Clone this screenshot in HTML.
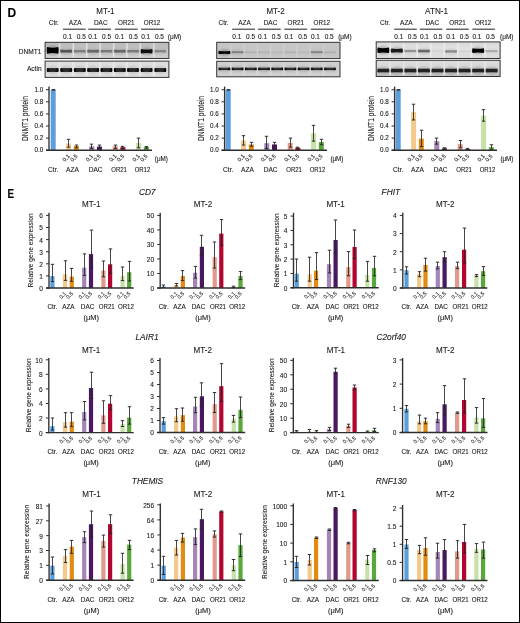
<!DOCTYPE html>
<html><head><meta charset="utf-8"><title>Figure</title>
<style>
html,body{margin:0;padding:0;background:#fff;}
body{width:520px;height:623px;overflow:hidden;}
svg{display:block;will-change:transform;}
text{stroke:#1a1a1a;stroke-width:0.1px;}
</style></head><body>
<svg width="520" height="623" viewBox="0 0 520 623" font-family='"Liberation Sans", sans-serif' fill="#1a1a1a">
<defs><filter id="bl" x="-20%" y="-60%" width="140%" height="220%"><feGaussianBlur stdDeviation="0.5"/></filter><filter id="bl2" x="-30%" y="-80%" width="160%" height="260%"><feGaussianBlur stdDeviation="1.0"/></filter><linearGradient id="g1" x1="0" y1="0" x2="0" y2="1"><stop offset="0" stop-color="#b9b9b9"/><stop offset="0.5" stop-color="#c6c6c6"/><stop offset="1" stop-color="#d0d0d0"/></linearGradient><linearGradient id="g3" x1="0" y1="0" x2="0" y2="1"><stop offset="0" stop-color="#d8d8d8"/><stop offset="0.4" stop-color="#e2e2e2"/><stop offset="1" stop-color="#dadada"/></linearGradient><linearGradient id="g3a" x1="0" y1="0" x2="0" y2="1"><stop offset="0" stop-color="#dedede"/><stop offset="0.5" stop-color="#d6d6d6"/><stop offset="1" stop-color="#bdbdbd"/></linearGradient></defs>
<rect width="520" height="623" fill="#fff"/>
<text x="7.6" y="16.6" font-size="12" font-weight="bold" fill="#000">D</text>
<text x="7.6" y="197.8" font-size="12" font-weight="bold" fill="#000" textLength="6.6" lengthAdjust="spacingAndGlyphs">E</text>
<text x="105.4" y="13.9" font-size="9" text-anchor="middle" textLength="18.2" lengthAdjust="spacingAndGlyphs">MT-1</text>
<text x="53.8" y="24.8" font-size="6.5" text-anchor="middle">Ctr.</text>
<line x1="62.9" y1="29.2" x2="85.7" y2="29.2" stroke="#333" stroke-width="1.1"/>
<text x="75.2" y="24.8" font-size="6.5" text-anchor="middle">AZA</text>
<text x="63" y="38.9" font-size="6.5">0.1</text>
<text x="85.8" y="38.9" font-size="6.5" text-anchor="end">0.5</text>
<line x1="88.2" y1="29.2" x2="111" y2="29.2" stroke="#333" stroke-width="1.1"/>
<text x="100.8" y="24.8" font-size="6.5" text-anchor="middle">DAC</text>
<text x="88.3" y="38.9" font-size="6.5">0.1</text>
<text x="111.1" y="38.9" font-size="6.5" text-anchor="end">0.5</text>
<line x1="114.9" y1="29.2" x2="137.7" y2="29.2" stroke="#333" stroke-width="1.1"/>
<text x="126.3" y="24.8" font-size="6.5" text-anchor="middle" textLength="16.4" lengthAdjust="spacingAndGlyphs">OR21</text>
<text x="115" y="38.9" font-size="6.5">0.1</text>
<text x="137.8" y="38.9" font-size="6.5" text-anchor="end">0.5</text>
<line x1="141.1" y1="29.2" x2="163.9" y2="29.2" stroke="#333" stroke-width="1.1"/>
<text x="152" y="24.8" font-size="6.5" text-anchor="middle" textLength="16.4" lengthAdjust="spacingAndGlyphs">OR12</text>
<text x="141.2" y="38.9" font-size="6.5">0.1</text>
<text x="164" y="38.9" font-size="6.5" text-anchor="end">0.5</text>
<text x="167.8" y="38.9" font-size="6.5">(μM)</text>
<text x="275.5" y="13.9" font-size="9" text-anchor="middle" textLength="18.2" lengthAdjust="spacingAndGlyphs">MT-2</text>
<text x="223.5" y="24.8" font-size="6.5" text-anchor="middle">Ctr.</text>
<line x1="232.2" y1="29.2" x2="255" y2="29.2" stroke="#333" stroke-width="1.1"/>
<text x="244.5" y="24.8" font-size="6.5" text-anchor="middle">AZA</text>
<text x="232.3" y="38.9" font-size="6.5">0.1</text>
<text x="255.1" y="38.9" font-size="6.5" text-anchor="end">0.5</text>
<line x1="257.9" y1="29.2" x2="280.7" y2="29.2" stroke="#333" stroke-width="1.1"/>
<text x="270.5" y="24.8" font-size="6.5" text-anchor="middle">DAC</text>
<text x="258" y="38.9" font-size="6.5">0.1</text>
<text x="280.8" y="38.9" font-size="6.5" text-anchor="end">0.5</text>
<line x1="284.3" y1="29.2" x2="307.1" y2="29.2" stroke="#333" stroke-width="1.1"/>
<text x="295.7" y="24.8" font-size="6.5" text-anchor="middle" textLength="16.4" lengthAdjust="spacingAndGlyphs">OR21</text>
<text x="284.4" y="38.9" font-size="6.5">0.1</text>
<text x="307.2" y="38.9" font-size="6.5" text-anchor="end">0.5</text>
<line x1="310.8" y1="29.2" x2="333.6" y2="29.2" stroke="#333" stroke-width="1.1"/>
<text x="321.7" y="24.8" font-size="6.5" text-anchor="middle" textLength="16.4" lengthAdjust="spacingAndGlyphs">OR12</text>
<text x="310.9" y="38.9" font-size="6.5">0.1</text>
<text x="333.7" y="38.9" font-size="6.5" text-anchor="end">0.5</text>
<text x="338.2" y="38.9" font-size="6.5">(μM)</text>
<text x="436.6" y="13.9" font-size="9" text-anchor="middle" textLength="23.1" lengthAdjust="spacingAndGlyphs">ATN-1</text>
<text x="385.1" y="24.8" font-size="6.5" text-anchor="middle">Ctr.</text>
<line x1="394.2" y1="29.2" x2="416.8" y2="29.2" stroke="#333" stroke-width="1.1"/>
<text x="406.4" y="24.8" font-size="6.5" text-anchor="middle">AZA</text>
<text x="394.3" y="38.9" font-size="6.5">0.1</text>
<text x="416.9" y="38.9" font-size="6.5" text-anchor="end">0.5</text>
<line x1="419.8" y1="29.2" x2="442.4" y2="29.2" stroke="#333" stroke-width="1.1"/>
<text x="432.3" y="24.8" font-size="6.5" text-anchor="middle">DAC</text>
<text x="419.9" y="38.9" font-size="6.5">0.1</text>
<text x="442.5" y="38.9" font-size="6.5" text-anchor="end">0.5</text>
<line x1="446.2" y1="29.2" x2="468.8" y2="29.2" stroke="#333" stroke-width="1.1"/>
<text x="457.5" y="24.8" font-size="6.5" text-anchor="middle" textLength="16.4" lengthAdjust="spacingAndGlyphs">OR21</text>
<text x="446.3" y="38.9" font-size="6.5">0.1</text>
<text x="468.9" y="38.9" font-size="6.5" text-anchor="end">0.5</text>
<line x1="472.3" y1="29.2" x2="494.9" y2="29.2" stroke="#333" stroke-width="1.1"/>
<text x="483.1" y="24.8" font-size="6.5" text-anchor="middle" textLength="16.4" lengthAdjust="spacingAndGlyphs">OR12</text>
<text x="472.4" y="38.9" font-size="6.5">0.1</text>
<text x="495" y="38.9" font-size="6.5" text-anchor="end">0.5</text>
<text x="500" y="38.9" font-size="6.5">(μM)</text>
<text x="41.4" y="54.2" font-size="6.6" text-anchor="end">DNMT1</text>
<text x="41.6" y="70.9" font-size="6.6" text-anchor="end">Actin</text>
<rect x="45.1" y="42.3" width="123.8" height="16.2" fill="url(#g1)" stroke="#333" stroke-width="1"/>
<rect x="58.7" y="43.3" width="1.6" height="14.2" fill="#e9e9e9" opacity="0.8"/>
<rect x="72.5" y="43.3" width="1.6" height="14.2" fill="#e9e9e9" opacity="0.8"/>
<rect x="86" y="43.3" width="1.6" height="14.2" fill="#e9e9e9" opacity="0.8"/>
<rect x="99.4" y="43.3" width="1.6" height="14.2" fill="#e9e9e9" opacity="0.8"/>
<rect x="112.9" y="43.3" width="1.6" height="14.2" fill="#e9e9e9" opacity="0.8"/>
<rect x="126.2" y="43.3" width="1.6" height="14.2" fill="#e9e9e9" opacity="0.8"/>
<rect x="139.5" y="43.3" width="1.6" height="14.2" fill="#e9e9e9" opacity="0.8"/>
<rect x="153.1" y="43.3" width="1.6" height="14.2" fill="#e9e9e9" opacity="0.8"/>
<ellipse cx="52.7" cy="50.3" rx="6.2" ry="4.5" fill="#000" opacity="0.22" filter="url(#bl2)"/>
<path d="M47.1 46.92 Q52.7 48.42 58.3 46.92 Q59.2 50.3 58.3 53.67 Q52.7 52.17 47.1 53.67 Q46.2 50.3 47.1 46.92Z" fill="#000" opacity="1" filter="url(#bl)"/>
<ellipse cx="66.2" cy="51.2" rx="6.2" ry="3.2" fill="#000" opacity="0.11" filter="url(#bl2)"/>
<path d="M60.6 49.58 Q66.2 50.3 71.8 49.58 Q72.7 51.2 71.8 52.82 Q66.2 52.1 60.6 52.82 Q59.7 51.2 60.6 49.58Z" fill="#000" opacity="0.52" filter="url(#bl)"/>
<ellipse cx="79.8" cy="51.2" rx="6.2" ry="3.1" fill="#000" opacity="0.07" filter="url(#bl2)"/>
<path d="M74.2 49.72 Q79.8 50.38 85.4 49.72 Q86.3 51.2 85.4 52.69 Q79.8 52.03 74.2 52.69 Q73.3 51.2 74.2 49.72Z" fill="#000" opacity="0.31" filter="url(#bl)"/>
<ellipse cx="93.1" cy="51.2" rx="6.2" ry="3.2" fill="#000" opacity="0.09" filter="url(#bl2)"/>
<path d="M87.5 49.58 Q93.1 50.3 98.7 49.58 Q99.6 51.2 98.7 52.82 Q93.1 52.1 87.5 52.82 Q86.6 51.2 87.5 49.58Z" fill="#000" opacity="0.42" filter="url(#bl)"/>
<ellipse cx="106.4" cy="51.2" rx="6.2" ry="3.1" fill="#000" opacity="0.07" filter="url(#bl2)"/>
<path d="M100.8 49.72 Q106.4 50.38 112 49.72 Q112.9 51.2 112 52.69 Q106.4 52.03 100.8 52.69 Q99.9 51.2 100.8 49.72Z" fill="#000" opacity="0.34" filter="url(#bl)"/>
<ellipse cx="119.8" cy="51.2" rx="6.2" ry="3.2" fill="#000" opacity="0.09" filter="url(#bl2)"/>
<path d="M114.2 49.58 Q119.8 50.3 125.4 49.58 Q126.3 51.2 125.4 52.82 Q119.8 52.1 114.2 52.82 Q113.3 51.2 114.2 49.58Z" fill="#000" opacity="0.42" filter="url(#bl)"/>
<ellipse cx="133" cy="51.2" rx="6.2" ry="3.1" fill="#000" opacity="0.07" filter="url(#bl2)"/>
<path d="M127.4 49.72 Q133 50.38 138.6 49.72 Q139.5 51.2 138.6 52.69 Q133 52.03 127.4 52.69 Q126.5 51.2 127.4 49.72Z" fill="#000" opacity="0.34" filter="url(#bl)"/>
<ellipse cx="146.6" cy="51.2" rx="6.2" ry="3.7" fill="#000" opacity="0.2" filter="url(#bl2)"/>
<path d="M141 48.91 Q146.6 49.93 152.2 48.91 Q153.1 51.2 152.2 53.5 Q146.6 52.48 141 53.5 Q140.1 51.2 141 48.91Z" fill="#000" opacity="0.9" filter="url(#bl)"/>
<ellipse cx="160.3" cy="51.2" rx="6.2" ry="3.1" fill="#000" opacity="0.06" filter="url(#bl2)"/>
<path d="M154.7 49.72 Q160.3 50.38 165.9 49.72 Q166.8 51.2 165.9 52.69 Q160.3 52.03 154.7 52.69 Q153.8 51.2 154.7 49.72Z" fill="#000" opacity="0.28" filter="url(#bl)"/>
<rect x="45.1" y="61.1" width="123.8" height="16.3" fill="#dddddd" stroke="#333" stroke-width="1"/>
<rect x="58.7" y="62.1" width="1.6" height="14.3" fill="#eeeeee" opacity="0.8"/>
<rect x="72.5" y="62.1" width="1.6" height="14.3" fill="#eeeeee" opacity="0.8"/>
<rect x="86" y="62.1" width="1.6" height="14.3" fill="#eeeeee" opacity="0.8"/>
<rect x="99.4" y="62.1" width="1.6" height="14.3" fill="#eeeeee" opacity="0.8"/>
<rect x="112.9" y="62.1" width="1.6" height="14.3" fill="#eeeeee" opacity="0.8"/>
<rect x="126.2" y="62.1" width="1.6" height="14.3" fill="#eeeeee" opacity="0.8"/>
<rect x="139.5" y="62.1" width="1.6" height="14.3" fill="#eeeeee" opacity="0.8"/>
<rect x="153.1" y="62.1" width="1.6" height="14.3" fill="#eeeeee" opacity="0.8"/>
<ellipse cx="52.7" cy="70" rx="6.2" ry="3.65" fill="#000" opacity="0.11" filter="url(#bl2)"/>
<path d="M47.1 67.94 Q52.7 68.76 58.3 67.94 Q59.2 70 58.3 72.06 Q52.7 71.24 47.1 72.06 Q46.2 70 47.1 67.94Z" fill="#000" opacity="0.95" filter="url(#bl)"/>
<rect x="48.9" y="69.65" width="7.6" height="0.7" fill="#fff" opacity="0.35" filter="url(#bl)"/>
<ellipse cx="66.2" cy="70" rx="6.2" ry="3.65" fill="#000" opacity="0.11" filter="url(#bl2)"/>
<path d="M60.6 67.94 Q66.2 68.76 71.8 67.94 Q72.7 70 71.8 72.06 Q66.2 71.24 60.6 72.06 Q59.7 70 60.6 67.94Z" fill="#000" opacity="0.95" filter="url(#bl)"/>
<rect x="62.4" y="69.65" width="7.6" height="0.7" fill="#fff" opacity="0.35" filter="url(#bl)"/>
<ellipse cx="79.8" cy="70" rx="6.2" ry="3.65" fill="#000" opacity="0.11" filter="url(#bl2)"/>
<path d="M74.2 67.94 Q79.8 68.76 85.4 67.94 Q86.3 70 85.4 72.06 Q79.8 71.24 74.2 72.06 Q73.3 70 74.2 67.94Z" fill="#000" opacity="0.95" filter="url(#bl)"/>
<rect x="76" y="69.65" width="7.6" height="0.7" fill="#fff" opacity="0.35" filter="url(#bl)"/>
<ellipse cx="93.1" cy="70" rx="6.2" ry="3.65" fill="#000" opacity="0.11" filter="url(#bl2)"/>
<path d="M87.5 67.94 Q93.1 68.76 98.7 67.94 Q99.6 70 98.7 72.06 Q93.1 71.24 87.5 72.06 Q86.6 70 87.5 67.94Z" fill="#000" opacity="0.95" filter="url(#bl)"/>
<rect x="89.3" y="69.65" width="7.6" height="0.7" fill="#fff" opacity="0.35" filter="url(#bl)"/>
<ellipse cx="106.4" cy="70" rx="6.2" ry="3.65" fill="#000" opacity="0.11" filter="url(#bl2)"/>
<path d="M100.8 67.94 Q106.4 68.76 112 67.94 Q112.9 70 112 72.06 Q106.4 71.24 100.8 72.06 Q99.9 70 100.8 67.94Z" fill="#000" opacity="0.95" filter="url(#bl)"/>
<rect x="102.6" y="69.65" width="7.6" height="0.7" fill="#fff" opacity="0.35" filter="url(#bl)"/>
<ellipse cx="119.8" cy="70" rx="6.2" ry="3.65" fill="#000" opacity="0.11" filter="url(#bl2)"/>
<path d="M114.2 67.94 Q119.8 68.76 125.4 67.94 Q126.3 70 125.4 72.06 Q119.8 71.24 114.2 72.06 Q113.3 70 114.2 67.94Z" fill="#000" opacity="0.95" filter="url(#bl)"/>
<rect x="116" y="69.65" width="7.6" height="0.7" fill="#fff" opacity="0.35" filter="url(#bl)"/>
<ellipse cx="133" cy="70" rx="6.2" ry="3.65" fill="#000" opacity="0.11" filter="url(#bl2)"/>
<path d="M127.4 67.94 Q133 68.76 138.6 67.94 Q139.5 70 138.6 72.06 Q133 71.24 127.4 72.06 Q126.5 70 127.4 67.94Z" fill="#000" opacity="0.95" filter="url(#bl)"/>
<rect x="129.2" y="69.65" width="7.6" height="0.7" fill="#fff" opacity="0.35" filter="url(#bl)"/>
<ellipse cx="146.6" cy="70" rx="6.2" ry="3.65" fill="#000" opacity="0.11" filter="url(#bl2)"/>
<path d="M141 67.94 Q146.6 68.76 152.2 67.94 Q153.1 70 152.2 72.06 Q146.6 71.24 141 72.06 Q140.1 70 141 67.94Z" fill="#000" opacity="0.95" filter="url(#bl)"/>
<rect x="142.8" y="69.65" width="7.6" height="0.7" fill="#fff" opacity="0.35" filter="url(#bl)"/>
<ellipse cx="160.3" cy="70" rx="6.2" ry="3.65" fill="#000" opacity="0.11" filter="url(#bl2)"/>
<path d="M154.7 67.94 Q160.3 68.76 165.9 67.94 Q166.8 70 165.9 72.06 Q160.3 71.24 154.7 72.06 Q153.8 70 154.7 67.94Z" fill="#000" opacity="0.95" filter="url(#bl)"/>
<rect x="156.5" y="69.65" width="7.6" height="0.7" fill="#fff" opacity="0.35" filter="url(#bl)"/>
<rect x="216.7" y="42.3" width="123.3" height="16.3" fill="#c6c6c6" stroke="#333" stroke-width="1"/>
<rect x="230.2" y="43.3" width="1.6" height="14.3" fill="#d0d0d0" opacity="0.8"/>
<rect x="243.4" y="43.3" width="1.6" height="14.3" fill="#d0d0d0" opacity="0.8"/>
<rect x="256.6" y="43.3" width="1.6" height="14.3" fill="#d0d0d0" opacity="0.8"/>
<rect x="269.8" y="43.3" width="1.6" height="14.3" fill="#d0d0d0" opacity="0.8"/>
<rect x="283" y="43.3" width="1.6" height="14.3" fill="#d0d0d0" opacity="0.8"/>
<rect x="296.2" y="43.3" width="1.6" height="14.3" fill="#d0d0d0" opacity="0.8"/>
<rect x="309.4" y="43.3" width="1.6" height="14.3" fill="#d0d0d0" opacity="0.8"/>
<rect x="322.6" y="43.3" width="1.6" height="14.3" fill="#d0d0d0" opacity="0.8"/>
<ellipse cx="224.4" cy="52.5" rx="6.2" ry="3.2" fill="#000" opacity="0.22" filter="url(#bl2)"/>
<path d="M218.8 50.88 Q224.4 51.6 230 50.88 Q230.9 52.5 230 54.12 Q224.4 53.4 218.8 54.12 Q217.9 52.5 218.8 50.88Z" fill="#000" opacity="1" filter="url(#bl)"/>
<ellipse cx="237.6" cy="52.2" rx="6.2" ry="2.85" fill="#000" opacity="0.07" filter="url(#bl2)"/>
<path d="M232 51.05 Q237.6 51.56 243.2 51.05 Q244.1 52.2 243.2 53.35 Q237.6 52.84 232 53.35 Q231.1 52.2 232 51.05Z" fill="#000" opacity="0.3" filter="url(#bl)"/>
<ellipse cx="250.8" cy="52.2" rx="6.2" ry="2.7" fill="#000" opacity="0.02" filter="url(#bl2)"/>
<path d="M245.2 51.26 Q250.8 51.68 256.4 51.26 Q257.3 52.2 256.4 53.15 Q250.8 52.73 245.2 53.15 Q244.3 52.2 245.2 51.26Z" fill="#000" opacity="0.07" filter="url(#bl)"/>
<ellipse cx="264" cy="52.2" rx="6.2" ry="2.7" fill="#000" opacity="0.02" filter="url(#bl2)"/>
<path d="M258.4 51.26 Q264 51.68 269.6 51.26 Q270.5 52.2 269.6 53.15 Q264 52.73 258.4 53.15 Q257.5 52.2 258.4 51.26Z" fill="#000" opacity="0.07" filter="url(#bl)"/>
<ellipse cx="277.2" cy="52.2" rx="6.2" ry="2.7" fill="#000" opacity="0.01" filter="url(#bl2)"/>
<path d="M271.6 51.26 Q277.2 51.68 282.8 51.26 Q283.7 52.2 282.8 53.15 Q277.2 52.73 271.6 53.15 Q270.7 52.2 271.6 51.26Z" fill="#000" opacity="0.05" filter="url(#bl)"/>
<ellipse cx="290.4" cy="52.2" rx="6.2" ry="2.7" fill="#000" opacity="0.02" filter="url(#bl2)"/>
<path d="M284.8 51.26 Q290.4 51.68 296 51.26 Q296.9 52.2 296 53.15 Q290.4 52.73 284.8 53.15 Q283.9 52.2 284.8 51.26Z" fill="#000" opacity="0.07" filter="url(#bl)"/>
<ellipse cx="303.6" cy="52.2" rx="6.2" ry="2.7" fill="#000" opacity="0.01" filter="url(#bl2)"/>
<path d="M298 51.26 Q303.6 51.68 309.2 51.26 Q310.1 52.2 309.2 53.15 Q303.6 52.73 298 53.15 Q297.1 52.2 298 51.26Z" fill="#000" opacity="0.05" filter="url(#bl)"/>
<ellipse cx="316.8" cy="52.2" rx="6.2" ry="2.85" fill="#000" opacity="0.06" filter="url(#bl2)"/>
<path d="M311.2 51.05 Q316.8 51.56 322.4 51.05 Q323.3 52.2 322.4 53.35 Q316.8 52.84 311.2 53.35 Q310.3 52.2 311.2 51.05Z" fill="#000" opacity="0.28" filter="url(#bl)"/>
<ellipse cx="330" cy="52.2" rx="6.2" ry="2.7" fill="#000" opacity="0.02" filter="url(#bl2)"/>
<path d="M324.4 51.26 Q330 51.68 335.6 51.26 Q336.5 52.2 335.6 53.15 Q330 52.73 324.4 53.15 Q323.5 52.2 324.4 51.26Z" fill="#000" opacity="0.1" filter="url(#bl)"/>
<rect x="216.7" y="61.3" width="123.3" height="15.5" fill="#cfcfcf" stroke="#333" stroke-width="1"/>
<rect x="230.2" y="62.3" width="1.6" height="13.5" fill="#dadada" opacity="0.8"/>
<rect x="243.4" y="62.3" width="1.6" height="13.5" fill="#dadada" opacity="0.8"/>
<rect x="256.6" y="62.3" width="1.6" height="13.5" fill="#dadada" opacity="0.8"/>
<rect x="269.8" y="62.3" width="1.6" height="13.5" fill="#dadada" opacity="0.8"/>
<rect x="283" y="62.3" width="1.6" height="13.5" fill="#dadada" opacity="0.8"/>
<rect x="296.2" y="62.3" width="1.6" height="13.5" fill="#dadada" opacity="0.8"/>
<rect x="309.4" y="62.3" width="1.6" height="13.5" fill="#dadada" opacity="0.8"/>
<rect x="322.6" y="62.3" width="1.6" height="13.5" fill="#dadada" opacity="0.8"/>
<ellipse cx="224.4" cy="68.9" rx="6.2" ry="3.15" fill="#000" opacity="0.11" filter="url(#bl2)"/>
<path d="M218.8 67.46 Q224.4 68.04 230 67.46 Q230.9 68.9 230 70.34 Q224.4 69.76 218.8 70.34 Q217.9 68.9 218.8 67.46Z" fill="#000" opacity="0.9" filter="url(#bl)"/>
<rect x="220.6" y="68.55" width="7.6" height="0.7" fill="#fff" opacity="0.3" filter="url(#bl)"/>
<ellipse cx="237.6" cy="68.9" rx="6.2" ry="3.15" fill="#000" opacity="0.11" filter="url(#bl2)"/>
<path d="M232 67.46 Q237.6 68.04 243.2 67.46 Q244.1 68.9 243.2 70.34 Q237.6 69.76 232 70.34 Q231.1 68.9 232 67.46Z" fill="#000" opacity="0.9" filter="url(#bl)"/>
<rect x="233.8" y="68.55" width="7.6" height="0.7" fill="#fff" opacity="0.3" filter="url(#bl)"/>
<ellipse cx="250.8" cy="68.9" rx="6.2" ry="3.15" fill="#000" opacity="0.11" filter="url(#bl2)"/>
<path d="M245.2 67.46 Q250.8 68.04 256.4 67.46 Q257.3 68.9 256.4 70.34 Q250.8 69.76 245.2 70.34 Q244.3 68.9 245.2 67.46Z" fill="#000" opacity="0.9" filter="url(#bl)"/>
<rect x="247" y="68.55" width="7.6" height="0.7" fill="#fff" opacity="0.3" filter="url(#bl)"/>
<ellipse cx="264" cy="68.9" rx="6.2" ry="3.15" fill="#000" opacity="0.11" filter="url(#bl2)"/>
<path d="M258.4 67.46 Q264 68.04 269.6 67.46 Q270.5 68.9 269.6 70.34 Q264 69.76 258.4 70.34 Q257.5 68.9 258.4 67.46Z" fill="#000" opacity="0.9" filter="url(#bl)"/>
<rect x="260.2" y="68.55" width="7.6" height="0.7" fill="#fff" opacity="0.3" filter="url(#bl)"/>
<ellipse cx="277.2" cy="68.9" rx="6.2" ry="3.15" fill="#000" opacity="0.11" filter="url(#bl2)"/>
<path d="M271.6 67.46 Q277.2 68.04 282.8 67.46 Q283.7 68.9 282.8 70.34 Q277.2 69.76 271.6 70.34 Q270.7 68.9 271.6 67.46Z" fill="#000" opacity="0.9" filter="url(#bl)"/>
<rect x="273.4" y="68.55" width="7.6" height="0.7" fill="#fff" opacity="0.3" filter="url(#bl)"/>
<ellipse cx="290.4" cy="68.9" rx="6.2" ry="3.15" fill="#000" opacity="0.11" filter="url(#bl2)"/>
<path d="M284.8 67.46 Q290.4 68.04 296 67.46 Q296.9 68.9 296 70.34 Q290.4 69.76 284.8 70.34 Q283.9 68.9 284.8 67.46Z" fill="#000" opacity="0.9" filter="url(#bl)"/>
<rect x="286.6" y="68.55" width="7.6" height="0.7" fill="#fff" opacity="0.3" filter="url(#bl)"/>
<ellipse cx="303.6" cy="68.9" rx="6.2" ry="3.15" fill="#000" opacity="0.11" filter="url(#bl2)"/>
<path d="M298 67.46 Q303.6 68.04 309.2 67.46 Q310.1 68.9 309.2 70.34 Q303.6 69.76 298 70.34 Q297.1 68.9 298 67.46Z" fill="#000" opacity="0.9" filter="url(#bl)"/>
<rect x="299.8" y="68.55" width="7.6" height="0.7" fill="#fff" opacity="0.3" filter="url(#bl)"/>
<ellipse cx="316.8" cy="68.9" rx="6.2" ry="3.15" fill="#000" opacity="0.11" filter="url(#bl2)"/>
<path d="M311.2 67.46 Q316.8 68.04 322.4 67.46 Q323.3 68.9 322.4 70.34 Q316.8 69.76 311.2 70.34 Q310.3 68.9 311.2 67.46Z" fill="#000" opacity="0.9" filter="url(#bl)"/>
<rect x="313" y="68.55" width="7.6" height="0.7" fill="#fff" opacity="0.3" filter="url(#bl)"/>
<ellipse cx="330" cy="68.9" rx="6.2" ry="3.15" fill="#000" opacity="0.11" filter="url(#bl2)"/>
<path d="M324.4 67.46 Q330 68.04 335.6 67.46 Q336.5 68.9 335.6 70.34 Q330 69.76 324.4 70.34 Q323.5 68.9 324.4 67.46Z" fill="#000" opacity="0.9" filter="url(#bl)"/>
<rect x="326.2" y="68.55" width="7.6" height="0.7" fill="#fff" opacity="0.3" filter="url(#bl)"/>
<rect x="376.2" y="41.9" width="123.9" height="16.6" fill="url(#g3)" stroke="#333" stroke-width="1"/>
<rect x="389.3" y="42.9" width="1.6" height="14.6" fill="#ededed" opacity="0.8"/>
<rect x="402.85" y="42.9" width="1.6" height="14.6" fill="#ededed" opacity="0.8"/>
<rect x="416.4" y="42.9" width="1.6" height="14.6" fill="#ededed" opacity="0.8"/>
<rect x="429.95" y="42.9" width="1.6" height="14.6" fill="#ededed" opacity="0.8"/>
<rect x="443.5" y="42.9" width="1.6" height="14.6" fill="#ededed" opacity="0.8"/>
<rect x="457.05" y="42.9" width="1.6" height="14.6" fill="#ededed" opacity="0.8"/>
<rect x="470.6" y="42.9" width="1.6" height="14.6" fill="#ededed" opacity="0.8"/>
<rect x="484.15" y="42.9" width="1.6" height="14.6" fill="#ededed" opacity="0.8"/>
<ellipse cx="383.3" cy="50.3" rx="6.2" ry="4" fill="#000" opacity="0.22" filter="url(#bl2)"/>
<path d="M377.7 47.6 Q383.3 48.8 388.9 47.6 Q389.8 50.3 388.9 53 Q383.3 51.8 377.7 53 Q376.8 50.3 377.7 47.6Z" fill="#000" opacity="1" filter="url(#bl)"/>
<ellipse cx="396.85" cy="50.6" rx="6.2" ry="3.6" fill="#000" opacity="0.19" filter="url(#bl2)"/>
<path d="M391.25 48.44 Q396.85 49.4 402.45 48.44 Q403.35 50.6 402.45 52.76 Q396.85 51.8 391.25 52.76 Q390.35 50.6 391.25 48.44Z" fill="#000" opacity="0.85" filter="url(#bl)"/>
<ellipse cx="410.4" cy="51" rx="6.2" ry="2.95" fill="#000" opacity="0.07" filter="url(#bl2)"/>
<path d="M404.8 49.72 Q410.4 50.29 416 49.72 Q416.9 51 416 52.28 Q410.4 51.71 404.8 52.28 Q403.9 51 404.8 49.72Z" fill="#000" opacity="0.3" filter="url(#bl)"/>
<ellipse cx="423.95" cy="51" rx="6.2" ry="3.15" fill="#000" opacity="0.11" filter="url(#bl2)"/>
<path d="M418.35 49.45 Q423.95 50.14 429.55 49.45 Q430.45 51 429.55 52.55 Q423.95 51.86 418.35 52.55 Q417.45 51 418.35 49.45Z" fill="#000" opacity="0.48" filter="url(#bl)"/>
<ellipse cx="437.5" cy="51.2" rx="6.2" ry="2.65" fill="#000" opacity="0.01" filter="url(#bl2)"/>
<path d="M431.9 50.32 Q437.5 50.71 443.1 50.32 Q444 51.2 443.1 52.08 Q437.5 51.69 431.9 52.08 Q431 51.2 431.9 50.32Z" fill="#000" opacity="0.04" filter="url(#bl)"/>
<ellipse cx="451.05" cy="51.4" rx="6.2" ry="3" fill="#000" opacity="0.07" filter="url(#bl2)"/>
<path d="M445.45 50.05 Q451.05 50.65 456.65 50.05 Q457.55 51.4 456.65 52.75 Q451.05 52.15 445.45 52.75 Q444.55 51.4 445.45 50.05Z" fill="#000" opacity="0.33" filter="url(#bl)"/>
<ellipse cx="464.6" cy="51.4" rx="6.2" ry="2.65" fill="#000" opacity="0.01" filter="url(#bl2)"/>
<path d="M459 50.52 Q464.6 50.91 470.2 50.52 Q471.1 51.4 470.2 52.28 Q464.6 51.89 459 52.28 Q458.1 51.4 459 50.52Z" fill="#000" opacity="0.05" filter="url(#bl)"/>
<ellipse cx="478.15" cy="50.6" rx="6.2" ry="3.7" fill="#000" opacity="0.22" filter="url(#bl2)"/>
<path d="M472.55 48.3 Q478.15 49.33 483.75 48.3 Q484.65 50.6 483.75 52.9 Q478.15 51.88 472.55 52.9 Q471.65 50.6 472.55 48.3Z" fill="#000" opacity="1" filter="url(#bl)"/>
<ellipse cx="491.7" cy="51.2" rx="6.2" ry="2.85" fill="#000" opacity="0.05" filter="url(#bl2)"/>
<path d="M486.1 50.05 Q491.7 50.56 497.3 50.05 Q498.2 51.2 497.3 52.35 Q491.7 51.84 486.1 52.35 Q485.2 51.2 486.1 50.05Z" fill="#000" opacity="0.22" filter="url(#bl)"/>
<rect x="376.2" y="60.3" width="123.9" height="16.2" fill="url(#g3a)" stroke="#333" stroke-width="1"/>
<rect x="389.3" y="61.3" width="1.6" height="14.2" fill="#e8e8e8" opacity="0.8"/>
<rect x="402.85" y="61.3" width="1.6" height="14.2" fill="#e8e8e8" opacity="0.8"/>
<rect x="416.4" y="61.3" width="1.6" height="14.2" fill="#e8e8e8" opacity="0.8"/>
<rect x="429.95" y="61.3" width="1.6" height="14.2" fill="#e8e8e8" opacity="0.8"/>
<rect x="443.5" y="61.3" width="1.6" height="14.2" fill="#e8e8e8" opacity="0.8"/>
<rect x="457.05" y="61.3" width="1.6" height="14.2" fill="#e8e8e8" opacity="0.8"/>
<rect x="470.6" y="61.3" width="1.6" height="14.2" fill="#e8e8e8" opacity="0.8"/>
<rect x="484.15" y="61.3" width="1.6" height="14.2" fill="#e8e8e8" opacity="0.8"/>
<ellipse cx="383.3" cy="70.5" rx="6.2" ry="3.7" fill="#000" opacity="0.16" filter="url(#bl2)"/>
<path d="M377.7 68.46 Q383.3 69.22 388.9 68.46 Q389.8 70.5 388.9 72.54 Q383.3 71.78 377.7 72.54 Q376.8 70.5 377.7 68.46Z" fill="#000" opacity="0.8" filter="url(#bl)"/>
<ellipse cx="396.85" cy="70.5" rx="6.2" ry="3.7" fill="#000" opacity="0.16" filter="url(#bl2)"/>
<path d="M391.25 68.46 Q396.85 69.22 402.45 68.46 Q403.35 70.5 402.45 72.54 Q396.85 71.78 391.25 72.54 Q390.35 70.5 391.25 68.46Z" fill="#000" opacity="0.8" filter="url(#bl)"/>
<ellipse cx="410.4" cy="70.5" rx="6.2" ry="3.7" fill="#000" opacity="0.16" filter="url(#bl2)"/>
<path d="M404.8 68.46 Q410.4 69.22 416 68.46 Q416.9 70.5 416 72.54 Q410.4 71.78 404.8 72.54 Q403.9 70.5 404.8 68.46Z" fill="#000" opacity="0.8" filter="url(#bl)"/>
<ellipse cx="423.95" cy="70.5" rx="6.2" ry="3.7" fill="#000" opacity="0.16" filter="url(#bl2)"/>
<path d="M418.35 68.46 Q423.95 69.22 429.55 68.46 Q430.45 70.5 429.55 72.54 Q423.95 71.78 418.35 72.54 Q417.45 70.5 418.35 68.46Z" fill="#000" opacity="0.8" filter="url(#bl)"/>
<ellipse cx="437.5" cy="70.5" rx="6.2" ry="3.7" fill="#000" opacity="0.16" filter="url(#bl2)"/>
<path d="M431.9 68.46 Q437.5 69.22 443.1 68.46 Q444 70.5 443.1 72.54 Q437.5 71.78 431.9 72.54 Q431 70.5 431.9 68.46Z" fill="#000" opacity="0.8" filter="url(#bl)"/>
<ellipse cx="451.05" cy="70.5" rx="6.2" ry="3.7" fill="#000" opacity="0.16" filter="url(#bl2)"/>
<path d="M445.45 68.46 Q451.05 69.22 456.65 68.46 Q457.55 70.5 456.65 72.54 Q451.05 71.78 445.45 72.54 Q444.55 70.5 445.45 68.46Z" fill="#000" opacity="0.8" filter="url(#bl)"/>
<ellipse cx="464.6" cy="70.5" rx="6.2" ry="3.7" fill="#000" opacity="0.16" filter="url(#bl2)"/>
<path d="M459 68.46 Q464.6 69.22 470.2 68.46 Q471.1 70.5 470.2 72.54 Q464.6 71.78 459 72.54 Q458.1 70.5 459 68.46Z" fill="#000" opacity="0.8" filter="url(#bl)"/>
<ellipse cx="478.15" cy="70.5" rx="6.2" ry="3.7" fill="#000" opacity="0.16" filter="url(#bl2)"/>
<path d="M472.55 68.46 Q478.15 69.22 483.75 68.46 Q484.65 70.5 483.75 72.54 Q478.15 71.78 472.55 72.54 Q471.65 70.5 472.55 68.46Z" fill="#000" opacity="0.8" filter="url(#bl)"/>
<ellipse cx="491.7" cy="70.5" rx="6.2" ry="3.7" fill="#000" opacity="0.16" filter="url(#bl2)"/>
<path d="M486.1 68.46 Q491.7 69.22 497.3 68.46 Q498.2 70.5 497.3 72.54 Q491.7 71.78 486.1 72.54 Q485.2 70.5 486.1 68.46Z" fill="#000" opacity="0.8" filter="url(#bl)"/>
<rect x="50.7" y="89.7" width="5" height="60.5" fill="#5a9fdc"/>
<rect x="66.1" y="143.54" width="5" height="6.66" fill="#f4c98d"/>
<rect x="73.8" y="145.96" width="5" height="4.24" fill="#e38c12"/>
<rect x="89.3" y="146.27" width="5" height="3.93" fill="#a585b8"/>
<rect x="97" y="146.57" width="5" height="3.63" fill="#4a1860"/>
<rect x="112.7" y="146.27" width="5" height="3.93" fill="#e19a89"/>
<rect x="120.4" y="147.17" width="5" height="3.03" fill="#b3052f"/>
<rect x="136.1" y="142.94" width="5" height="7.26" fill="#c6e2a6"/>
<rect x="143.8" y="147.17" width="5" height="3.03" fill="#5aa83b"/>
<line x1="53.5" y1="89.7" x2="53.5" y2="90" stroke="#262626" stroke-width="0.85"/>
<line x1="51.8" y1="89.7" x2="55.2" y2="89.7" stroke="#262626" stroke-width="0.95"/>
<line x1="51.8" y1="90" x2="55.2" y2="90" stroke="#262626" stroke-width="0.95"/>
<line x1="68.5" y1="139.31" x2="68.5" y2="147.17" stroke="#262626" stroke-width="0.85"/>
<line x1="66.8" y1="139.31" x2="70.2" y2="139.31" stroke="#262626" stroke-width="0.95"/>
<line x1="66.8" y1="147.17" x2="70.2" y2="147.17" stroke="#262626" stroke-width="0.95"/>
<line x1="76.5" y1="145.06" x2="76.5" y2="147.78" stroke="#262626" stroke-width="0.85"/>
<line x1="74.8" y1="145.06" x2="78.2" y2="145.06" stroke="#262626" stroke-width="0.95"/>
<line x1="74.8" y1="147.78" x2="78.2" y2="147.78" stroke="#262626" stroke-width="0.95"/>
<line x1="91.5" y1="144.15" x2="91.5" y2="148.38" stroke="#262626" stroke-width="0.85"/>
<line x1="89.8" y1="144.15" x2="93.2" y2="144.15" stroke="#262626" stroke-width="0.95"/>
<line x1="89.8" y1="148.38" x2="93.2" y2="148.38" stroke="#262626" stroke-width="0.95"/>
<line x1="99.5" y1="145.06" x2="99.5" y2="148.08" stroke="#262626" stroke-width="0.85"/>
<line x1="97.8" y1="145.06" x2="101.2" y2="145.06" stroke="#262626" stroke-width="0.95"/>
<line x1="97.8" y1="148.08" x2="101.2" y2="148.08" stroke="#262626" stroke-width="0.95"/>
<line x1="115.5" y1="145.06" x2="115.5" y2="148.38" stroke="#262626" stroke-width="0.85"/>
<line x1="113.8" y1="145.06" x2="117.2" y2="145.06" stroke="#262626" stroke-width="0.95"/>
<line x1="113.8" y1="148.38" x2="117.2" y2="148.38" stroke="#262626" stroke-width="0.95"/>
<line x1="122.5" y1="146.27" x2="122.5" y2="148.38" stroke="#262626" stroke-width="0.85"/>
<line x1="120.8" y1="146.27" x2="124.2" y2="146.27" stroke="#262626" stroke-width="0.95"/>
<line x1="120.8" y1="148.38" x2="124.2" y2="148.38" stroke="#262626" stroke-width="0.95"/>
<line x1="138.5" y1="138.1" x2="138.5" y2="147.78" stroke="#262626" stroke-width="0.85"/>
<line x1="136.8" y1="138.1" x2="140.2" y2="138.1" stroke="#262626" stroke-width="0.95"/>
<line x1="136.8" y1="147.78" x2="140.2" y2="147.78" stroke="#262626" stroke-width="0.95"/>
<line x1="146.5" y1="146.57" x2="146.5" y2="148.08" stroke="#262626" stroke-width="0.85"/>
<line x1="144.8" y1="146.57" x2="148.2" y2="146.57" stroke="#262626" stroke-width="0.95"/>
<line x1="144.8" y1="148.08" x2="148.2" y2="148.08" stroke="#262626" stroke-width="0.95"/>
<line x1="49" y1="86.6" x2="49" y2="150.9" stroke="#2e2e2e" stroke-width="1.35"/>
<line x1="46" y1="150.2" x2="152" y2="150.2" stroke="#2e2e2e" stroke-width="1.45"/>
<line x1="46" y1="150.2" x2="49" y2="150.2" stroke="#2e2e2e" stroke-width="1"/>
<text x="43.2" y="152.17" font-size="6.3" text-anchor="end">0.0</text>
<line x1="46" y1="138.1" x2="49" y2="138.1" stroke="#2e2e2e" stroke-width="1"/>
<text x="43.2" y="140.07" font-size="6.3" text-anchor="end">0.2</text>
<line x1="46" y1="126" x2="49" y2="126" stroke="#2e2e2e" stroke-width="1"/>
<text x="43.2" y="127.97" font-size="6.3" text-anchor="end">0.4</text>
<line x1="46" y1="113.9" x2="49" y2="113.9" stroke="#2e2e2e" stroke-width="1"/>
<text x="43.2" y="115.87" font-size="6.3" text-anchor="end">0.6</text>
<line x1="46" y1="101.8" x2="49" y2="101.8" stroke="#2e2e2e" stroke-width="1"/>
<text x="43.2" y="103.77" font-size="6.3" text-anchor="end">0.8</text>
<line x1="46" y1="89.7" x2="49" y2="89.7" stroke="#2e2e2e" stroke-width="1"/>
<text x="43.2" y="91.67" font-size="6.3" text-anchor="end">1.0</text>
<text x="70.3" y="156.6" font-size="5.6" text-anchor="end" transform="rotate(-45 70.3 156.6)">0.1</text>
<text x="78" y="156.6" font-size="5.6" text-anchor="end" transform="rotate(-45 78 156.6)">0.5</text>
<text x="93.5" y="156.6" font-size="5.6" text-anchor="end" transform="rotate(-45 93.5 156.6)">0.1</text>
<text x="101.2" y="156.6" font-size="5.6" text-anchor="end" transform="rotate(-45 101.2 156.6)">0.5</text>
<text x="116.9" y="156.6" font-size="5.6" text-anchor="end" transform="rotate(-45 116.9 156.6)">0.1</text>
<text x="124.6" y="156.6" font-size="5.6" text-anchor="end" transform="rotate(-45 124.6 156.6)">0.5</text>
<text x="140.3" y="156.6" font-size="5.6" text-anchor="end" transform="rotate(-45 140.3 156.6)">0.1</text>
<text x="148" y="156.6" font-size="5.6" text-anchor="end" transform="rotate(-45 148 156.6)">0.5</text>
<text x="53.2" y="172.1" font-size="6.6" text-anchor="middle">Ctr.</text>
<text x="72.45" y="172.1" font-size="6.6" text-anchor="middle">AZA</text>
<text x="95.65" y="172.1" font-size="6.6" text-anchor="middle">DAC</text>
<text x="119.05" y="172.1" font-size="6.6" text-anchor="middle" textLength="15.6" lengthAdjust="spacingAndGlyphs">OR21</text>
<text x="142.45" y="172.1" font-size="6.6" text-anchor="middle" textLength="15.6" lengthAdjust="spacingAndGlyphs">OR12</text>
<text x="154.8" y="160.6" font-size="6.3">(μM)</text>
<text x="28" y="118.5" font-size="8.4" text-anchor="middle" transform="rotate(-90 28 118.5)" textLength="45" lengthAdjust="spacingAndGlyphs">DNMT1 protein</text>
<rect x="225.7" y="89.7" width="5" height="60.5" fill="#5a9fdc"/>
<rect x="241.1" y="140.52" width="5" height="9.68" fill="#f4c98d"/>
<rect x="248.8" y="144.45" width="5" height="5.75" fill="#e38c12"/>
<rect x="264.3" y="143.24" width="5" height="6.96" fill="#a585b8"/>
<rect x="272" y="144.45" width="5" height="5.75" fill="#4a1860"/>
<rect x="287.7" y="142.94" width="5" height="7.26" fill="#e19a89"/>
<rect x="295.4" y="147.78" width="5" height="2.42" fill="#b3052f"/>
<rect x="311.1" y="133.26" width="5" height="16.94" fill="#c6e2a6"/>
<rect x="318.8" y="142.03" width="5" height="8.17" fill="#5aa83b"/>
<line x1="228.5" y1="89.7" x2="228.5" y2="90" stroke="#262626" stroke-width="0.85"/>
<line x1="226.8" y1="89.7" x2="230.2" y2="89.7" stroke="#262626" stroke-width="0.95"/>
<line x1="226.8" y1="90" x2="230.2" y2="90" stroke="#262626" stroke-width="0.95"/>
<line x1="243.5" y1="135.68" x2="243.5" y2="145.06" stroke="#262626" stroke-width="0.85"/>
<line x1="241.8" y1="135.68" x2="245.2" y2="135.68" stroke="#262626" stroke-width="0.95"/>
<line x1="241.8" y1="145.06" x2="245.2" y2="145.06" stroke="#262626" stroke-width="0.95"/>
<line x1="251.5" y1="142.33" x2="251.5" y2="146.27" stroke="#262626" stroke-width="0.85"/>
<line x1="249.8" y1="142.33" x2="253.2" y2="142.33" stroke="#262626" stroke-width="0.95"/>
<line x1="249.8" y1="146.27" x2="253.2" y2="146.27" stroke="#262626" stroke-width="0.95"/>
<line x1="266.5" y1="136.28" x2="266.5" y2="148.38" stroke="#262626" stroke-width="0.85"/>
<line x1="264.8" y1="136.28" x2="268.2" y2="136.28" stroke="#262626" stroke-width="0.95"/>
<line x1="264.8" y1="148.38" x2="268.2" y2="148.38" stroke="#262626" stroke-width="0.95"/>
<line x1="274.5" y1="142.33" x2="274.5" y2="147.17" stroke="#262626" stroke-width="0.85"/>
<line x1="272.8" y1="142.33" x2="276.2" y2="142.33" stroke="#262626" stroke-width="0.95"/>
<line x1="272.8" y1="147.17" x2="276.2" y2="147.17" stroke="#262626" stroke-width="0.95"/>
<line x1="290.5" y1="138.1" x2="290.5" y2="147.17" stroke="#262626" stroke-width="0.85"/>
<line x1="288.8" y1="138.1" x2="292.2" y2="138.1" stroke="#262626" stroke-width="0.95"/>
<line x1="288.8" y1="147.17" x2="292.2" y2="147.17" stroke="#262626" stroke-width="0.95"/>
<line x1="297.5" y1="147.17" x2="297.5" y2="148.38" stroke="#262626" stroke-width="0.85"/>
<line x1="295.8" y1="147.17" x2="299.2" y2="147.17" stroke="#262626" stroke-width="0.95"/>
<line x1="295.8" y1="148.38" x2="299.2" y2="148.38" stroke="#262626" stroke-width="0.95"/>
<line x1="313.5" y1="125.39" x2="313.5" y2="141.12" stroke="#262626" stroke-width="0.85"/>
<line x1="311.8" y1="125.39" x2="315.2" y2="125.39" stroke="#262626" stroke-width="0.95"/>
<line x1="311.8" y1="141.12" x2="315.2" y2="141.12" stroke="#262626" stroke-width="0.95"/>
<line x1="321.5" y1="139.31" x2="321.5" y2="144.75" stroke="#262626" stroke-width="0.85"/>
<line x1="319.8" y1="139.31" x2="323.2" y2="139.31" stroke="#262626" stroke-width="0.95"/>
<line x1="319.8" y1="144.75" x2="323.2" y2="144.75" stroke="#262626" stroke-width="0.95"/>
<line x1="224.6" y1="86.6" x2="224.6" y2="150.9" stroke="#2e2e2e" stroke-width="1.35"/>
<line x1="221.6" y1="150.2" x2="327" y2="150.2" stroke="#2e2e2e" stroke-width="1.45"/>
<line x1="221.6" y1="150.2" x2="224.6" y2="150.2" stroke="#2e2e2e" stroke-width="1"/>
<text x="218.8" y="152.17" font-size="6.3" text-anchor="end">0.0</text>
<line x1="221.6" y1="138.1" x2="224.6" y2="138.1" stroke="#2e2e2e" stroke-width="1"/>
<text x="218.8" y="140.07" font-size="6.3" text-anchor="end">0.2</text>
<line x1="221.6" y1="126" x2="224.6" y2="126" stroke="#2e2e2e" stroke-width="1"/>
<text x="218.8" y="127.97" font-size="6.3" text-anchor="end">0.4</text>
<line x1="221.6" y1="113.9" x2="224.6" y2="113.9" stroke="#2e2e2e" stroke-width="1"/>
<text x="218.8" y="115.87" font-size="6.3" text-anchor="end">0.6</text>
<line x1="221.6" y1="101.8" x2="224.6" y2="101.8" stroke="#2e2e2e" stroke-width="1"/>
<text x="218.8" y="103.77" font-size="6.3" text-anchor="end">0.8</text>
<line x1="221.6" y1="89.7" x2="224.6" y2="89.7" stroke="#2e2e2e" stroke-width="1"/>
<text x="218.8" y="91.67" font-size="6.3" text-anchor="end">1.0</text>
<text x="245.3" y="156.6" font-size="5.6" text-anchor="end" transform="rotate(-45 245.3 156.6)">0.1</text>
<text x="253" y="156.6" font-size="5.6" text-anchor="end" transform="rotate(-45 253 156.6)">0.5</text>
<text x="268.5" y="156.6" font-size="5.6" text-anchor="end" transform="rotate(-45 268.5 156.6)">0.1</text>
<text x="276.2" y="156.6" font-size="5.6" text-anchor="end" transform="rotate(-45 276.2 156.6)">0.5</text>
<text x="291.9" y="156.6" font-size="5.6" text-anchor="end" transform="rotate(-45 291.9 156.6)">0.1</text>
<text x="299.6" y="156.6" font-size="5.6" text-anchor="end" transform="rotate(-45 299.6 156.6)">0.5</text>
<text x="315.3" y="156.6" font-size="5.6" text-anchor="end" transform="rotate(-45 315.3 156.6)">0.1</text>
<text x="323" y="156.6" font-size="5.6" text-anchor="end" transform="rotate(-45 323 156.6)">0.5</text>
<text x="228.2" y="172.1" font-size="6.6" text-anchor="middle">Ctr.</text>
<text x="247.45" y="172.1" font-size="6.6" text-anchor="middle">AZA</text>
<text x="270.65" y="172.1" font-size="6.6" text-anchor="middle">DAC</text>
<text x="294.05" y="172.1" font-size="6.6" text-anchor="middle" textLength="15.6" lengthAdjust="spacingAndGlyphs">OR21</text>
<text x="317.45" y="172.1" font-size="6.6" text-anchor="middle" textLength="15.6" lengthAdjust="spacingAndGlyphs">OR12</text>
<text x="330.4" y="160.6" font-size="6.3">(μM)</text>
<text x="203.6" y="118.5" font-size="8.4" text-anchor="middle" transform="rotate(-90 203.6 118.5)" textLength="45" lengthAdjust="spacingAndGlyphs">DNMT1 protein</text>
<rect x="395.7" y="89.7" width="5" height="60.5" fill="#5a9fdc"/>
<rect x="411.1" y="112.08" width="5" height="38.12" fill="#f4c98d"/>
<rect x="418.8" y="138.7" width="5" height="11.5" fill="#e38c12"/>
<rect x="434.3" y="141.12" width="5" height="9.07" fill="#a585b8"/>
<rect x="442" y="148.38" width="5" height="1.81" fill="#4a1860"/>
<rect x="457.7" y="144.15" width="5" height="6.05" fill="#e19a89"/>
<rect x="465.4" y="148.99" width="5" height="1.21" fill="#b3052f"/>
<rect x="481.1" y="115.71" width="5" height="34.48" fill="#c6e2a6"/>
<rect x="488.8" y="147.17" width="5" height="3.03" fill="#5aa83b"/>
<line x1="398.5" y1="89.7" x2="398.5" y2="90" stroke="#262626" stroke-width="0.85"/>
<line x1="396.8" y1="89.7" x2="400.2" y2="89.7" stroke="#262626" stroke-width="0.95"/>
<line x1="396.8" y1="90" x2="400.2" y2="90" stroke="#262626" stroke-width="0.95"/>
<line x1="413.5" y1="104.22" x2="413.5" y2="119.95" stroke="#262626" stroke-width="0.85"/>
<line x1="411.8" y1="104.22" x2="415.2" y2="104.22" stroke="#262626" stroke-width="0.95"/>
<line x1="411.8" y1="119.95" x2="415.2" y2="119.95" stroke="#262626" stroke-width="0.95"/>
<line x1="421.5" y1="130.23" x2="421.5" y2="146.57" stroke="#262626" stroke-width="0.85"/>
<line x1="419.8" y1="130.23" x2="423.2" y2="130.23" stroke="#262626" stroke-width="0.95"/>
<line x1="419.8" y1="146.57" x2="423.2" y2="146.57" stroke="#262626" stroke-width="0.95"/>
<line x1="436.5" y1="138.1" x2="436.5" y2="144.15" stroke="#262626" stroke-width="0.85"/>
<line x1="434.8" y1="138.1" x2="438.2" y2="138.1" stroke="#262626" stroke-width="0.95"/>
<line x1="434.8" y1="144.15" x2="438.2" y2="144.15" stroke="#262626" stroke-width="0.95"/>
<line x1="444.5" y1="147.78" x2="444.5" y2="149.29" stroke="#262626" stroke-width="0.85"/>
<line x1="442.8" y1="147.78" x2="446.2" y2="147.78" stroke="#262626" stroke-width="0.95"/>
<line x1="442.8" y1="149.29" x2="446.2" y2="149.29" stroke="#262626" stroke-width="0.95"/>
<line x1="460.5" y1="140.52" x2="460.5" y2="147.78" stroke="#262626" stroke-width="0.85"/>
<line x1="458.8" y1="140.52" x2="462.2" y2="140.52" stroke="#262626" stroke-width="0.95"/>
<line x1="458.8" y1="147.78" x2="462.2" y2="147.78" stroke="#262626" stroke-width="0.95"/>
<line x1="467.5" y1="148.38" x2="467.5" y2="149.59" stroke="#262626" stroke-width="0.85"/>
<line x1="465.8" y1="148.38" x2="469.2" y2="148.38" stroke="#262626" stroke-width="0.95"/>
<line x1="465.8" y1="149.59" x2="469.2" y2="149.59" stroke="#262626" stroke-width="0.95"/>
<line x1="483.5" y1="109.66" x2="483.5" y2="121.16" stroke="#262626" stroke-width="0.85"/>
<line x1="481.8" y1="109.66" x2="485.2" y2="109.66" stroke="#262626" stroke-width="0.95"/>
<line x1="481.8" y1="121.16" x2="485.2" y2="121.16" stroke="#262626" stroke-width="0.95"/>
<line x1="491.5" y1="144.75" x2="491.5" y2="149.9" stroke="#262626" stroke-width="0.85"/>
<line x1="489.8" y1="144.75" x2="493.2" y2="144.75" stroke="#262626" stroke-width="0.95"/>
<line x1="489.8" y1="149.9" x2="493.2" y2="149.9" stroke="#262626" stroke-width="0.95"/>
<line x1="394.6" y1="86.6" x2="394.6" y2="150.9" stroke="#2e2e2e" stroke-width="1.35"/>
<line x1="391.6" y1="150.2" x2="497" y2="150.2" stroke="#2e2e2e" stroke-width="1.45"/>
<line x1="391.6" y1="150.2" x2="394.6" y2="150.2" stroke="#2e2e2e" stroke-width="1"/>
<text x="388.8" y="152.17" font-size="6.3" text-anchor="end">0.0</text>
<line x1="391.6" y1="138.1" x2="394.6" y2="138.1" stroke="#2e2e2e" stroke-width="1"/>
<text x="388.8" y="140.07" font-size="6.3" text-anchor="end">0.2</text>
<line x1="391.6" y1="126" x2="394.6" y2="126" stroke="#2e2e2e" stroke-width="1"/>
<text x="388.8" y="127.97" font-size="6.3" text-anchor="end">0.4</text>
<line x1="391.6" y1="113.9" x2="394.6" y2="113.9" stroke="#2e2e2e" stroke-width="1"/>
<text x="388.8" y="115.87" font-size="6.3" text-anchor="end">0.6</text>
<line x1="391.6" y1="101.8" x2="394.6" y2="101.8" stroke="#2e2e2e" stroke-width="1"/>
<text x="388.8" y="103.77" font-size="6.3" text-anchor="end">0.8</text>
<line x1="391.6" y1="89.7" x2="394.6" y2="89.7" stroke="#2e2e2e" stroke-width="1"/>
<text x="388.8" y="91.67" font-size="6.3" text-anchor="end">1.0</text>
<text x="415.3" y="156.6" font-size="5.6" text-anchor="end" transform="rotate(-45 415.3 156.6)">0.1</text>
<text x="423" y="156.6" font-size="5.6" text-anchor="end" transform="rotate(-45 423 156.6)">0.5</text>
<text x="438.5" y="156.6" font-size="5.6" text-anchor="end" transform="rotate(-45 438.5 156.6)">0.1</text>
<text x="446.2" y="156.6" font-size="5.6" text-anchor="end" transform="rotate(-45 446.2 156.6)">0.5</text>
<text x="461.9" y="156.6" font-size="5.6" text-anchor="end" transform="rotate(-45 461.9 156.6)">0.1</text>
<text x="469.6" y="156.6" font-size="5.6" text-anchor="end" transform="rotate(-45 469.6 156.6)">0.5</text>
<text x="485.3" y="156.6" font-size="5.6" text-anchor="end" transform="rotate(-45 485.3 156.6)">0.1</text>
<text x="493" y="156.6" font-size="5.6" text-anchor="end" transform="rotate(-45 493 156.6)">0.5</text>
<text x="398.2" y="172.1" font-size="6.6" text-anchor="middle">Ctr.</text>
<text x="417.45" y="172.1" font-size="6.6" text-anchor="middle">AZA</text>
<text x="440.65" y="172.1" font-size="6.6" text-anchor="middle">DAC</text>
<text x="464.05" y="172.1" font-size="6.6" text-anchor="middle" textLength="15.6" lengthAdjust="spacingAndGlyphs">OR21</text>
<text x="487.45" y="172.1" font-size="6.6" text-anchor="middle" textLength="15.6" lengthAdjust="spacingAndGlyphs">OR12</text>
<text x="500.4" y="160.6" font-size="6.3">(μM)</text>
<text x="373.6" y="118.5" font-size="8.4" text-anchor="middle" transform="rotate(-90 373.6 118.5)" textLength="45" lengthAdjust="spacingAndGlyphs">DNMT1 protein</text>
<text x="147.2" y="194.9" font-size="8.3" text-anchor="middle" font-style="italic">CD7</text>
<text x="390.8" y="195.2" font-size="8.3" text-anchor="middle" font-style="italic">FHIT</text>
<text x="147" y="339.6" font-size="8.3" text-anchor="middle" font-style="italic">LAIR1</text>
<text x="391.2" y="339.8" font-size="8.3" text-anchor="middle" font-style="italic">C2orf40</text>
<text x="147.5" y="483.9" font-size="8.3" text-anchor="middle" font-style="italic">THEMIS</text>
<text x="391.2" y="484.4" font-size="8.3" text-anchor="middle" font-style="italic">RNF130</text>
<rect x="50.3" y="276.1" width="4.2" height="11.9" fill="#5a9fdc"/>
<rect x="62.9" y="274.2" width="4.2" height="13.8" fill="#f4c98d"/>
<rect x="69.7" y="276.6" width="4.2" height="11.4" fill="#e38c12"/>
<rect x="82.1" y="267.7" width="4.2" height="20.3" fill="#a585b8"/>
<rect x="88.9" y="254.1" width="4.2" height="33.9" fill="#4a1860"/>
<rect x="101.3" y="270.6" width="4.2" height="17.4" fill="#e19a89"/>
<rect x="108" y="264.3" width="4.2" height="23.7" fill="#b3052f"/>
<rect x="120.5" y="276" width="4.2" height="12" fill="#c6e2a6"/>
<rect x="127.1" y="272.2" width="4.2" height="15.8" fill="#5aa83b"/>
<line x1="52.5" y1="264.3" x2="52.5" y2="281.5" stroke="#262626" stroke-width="0.85"/>
<line x1="50.8" y1="264.3" x2="54.2" y2="264.3" stroke="#262626" stroke-width="0.95"/>
<line x1="50.8" y1="281.5" x2="54.2" y2="281.5" stroke="#262626" stroke-width="0.95"/>
<line x1="65.5" y1="260.8" x2="65.5" y2="280.4" stroke="#262626" stroke-width="0.85"/>
<line x1="63.8" y1="260.8" x2="67.2" y2="260.8" stroke="#262626" stroke-width="0.95"/>
<line x1="63.8" y1="280.4" x2="67.2" y2="280.4" stroke="#262626" stroke-width="0.95"/>
<line x1="71.5" y1="268.4" x2="71.5" y2="281.3" stroke="#262626" stroke-width="0.85"/>
<line x1="69.8" y1="268.4" x2="73.2" y2="268.4" stroke="#262626" stroke-width="0.95"/>
<line x1="69.8" y1="281.3" x2="73.2" y2="281.3" stroke="#262626" stroke-width="0.95"/>
<line x1="84.5" y1="253.9" x2="84.5" y2="275.4" stroke="#262626" stroke-width="0.85"/>
<line x1="82.8" y1="253.9" x2="86.2" y2="253.9" stroke="#262626" stroke-width="0.95"/>
<line x1="82.8" y1="275.4" x2="86.2" y2="275.4" stroke="#262626" stroke-width="0.95"/>
<line x1="91.5" y1="230.1" x2="91.5" y2="268" stroke="#262626" stroke-width="0.85"/>
<line x1="89.8" y1="230.1" x2="93.2" y2="230.1" stroke="#262626" stroke-width="0.95"/>
<line x1="89.8" y1="268" x2="93.2" y2="268" stroke="#262626" stroke-width="0.95"/>
<line x1="103.5" y1="261" x2="103.5" y2="276.8" stroke="#262626" stroke-width="0.85"/>
<line x1="101.8" y1="261" x2="105.2" y2="261" stroke="#262626" stroke-width="0.95"/>
<line x1="101.8" y1="276.8" x2="105.2" y2="276.8" stroke="#262626" stroke-width="0.95"/>
<line x1="110.5" y1="248.9" x2="110.5" y2="273.3" stroke="#262626" stroke-width="0.85"/>
<line x1="108.8" y1="248.9" x2="112.2" y2="248.9" stroke="#262626" stroke-width="0.95"/>
<line x1="108.8" y1="273.3" x2="112.2" y2="273.3" stroke="#262626" stroke-width="0.95"/>
<line x1="122.5" y1="267" x2="122.5" y2="280.6" stroke="#262626" stroke-width="0.85"/>
<line x1="120.8" y1="267" x2="124.2" y2="267" stroke="#262626" stroke-width="0.95"/>
<line x1="120.8" y1="280.6" x2="124.2" y2="280.6" stroke="#262626" stroke-width="0.95"/>
<line x1="129.5" y1="261.4" x2="129.5" y2="281" stroke="#262626" stroke-width="0.85"/>
<line x1="127.8" y1="261.4" x2="131.2" y2="261.4" stroke="#262626" stroke-width="0.95"/>
<line x1="127.8" y1="281" x2="131.2" y2="281" stroke="#262626" stroke-width="0.95"/>
<line x1="49" y1="212.8" x2="49" y2="288.7" stroke="#2e2e2e" stroke-width="1.35"/>
<line x1="46" y1="288" x2="133.7" y2="288" stroke="#2e2e2e" stroke-width="1.45"/>
<line x1="46" y1="288" x2="49" y2="288" stroke="#2e2e2e" stroke-width="1"/>
<text x="42.8" y="290.94" font-size="6.5" text-anchor="end">0</text>
<line x1="46" y1="275.9" x2="49" y2="275.9" stroke="#2e2e2e" stroke-width="1"/>
<text x="42.8" y="278.84" font-size="6.5" text-anchor="end">1</text>
<line x1="46" y1="263.8" x2="49" y2="263.8" stroke="#2e2e2e" stroke-width="1"/>
<text x="42.8" y="266.74" font-size="6.5" text-anchor="end">2</text>
<line x1="46" y1="251.7" x2="49" y2="251.7" stroke="#2e2e2e" stroke-width="1"/>
<text x="42.8" y="254.64" font-size="6.5" text-anchor="end">3</text>
<line x1="46" y1="239.6" x2="49" y2="239.6" stroke="#2e2e2e" stroke-width="1"/>
<text x="42.8" y="242.54" font-size="6.5" text-anchor="end">4</text>
<line x1="46" y1="227.5" x2="49" y2="227.5" stroke="#2e2e2e" stroke-width="1"/>
<text x="42.8" y="230.44" font-size="6.5" text-anchor="end">5</text>
<line x1="46" y1="215.4" x2="49" y2="215.4" stroke="#2e2e2e" stroke-width="1"/>
<text x="42.8" y="218.34" font-size="6.5" text-anchor="end">6</text>
<text x="66.7" y="294" font-size="5.3" text-anchor="end" transform="rotate(-45 66.7 294)">0.1</text>
<text x="73.5" y="294" font-size="5.3" text-anchor="end" transform="rotate(-45 73.5 294)">0.5</text>
<text x="85.9" y="294" font-size="5.3" text-anchor="end" transform="rotate(-45 85.9 294)">0.1</text>
<text x="92.7" y="294" font-size="5.3" text-anchor="end" transform="rotate(-45 92.7 294)">0.5</text>
<text x="105.1" y="294" font-size="5.3" text-anchor="end" transform="rotate(-45 105.1 294)">0.1</text>
<text x="111.8" y="294" font-size="5.3" text-anchor="end" transform="rotate(-45 111.8 294)">0.5</text>
<text x="124.3" y="294" font-size="5.3" text-anchor="end" transform="rotate(-45 124.3 294)">0.1</text>
<text x="130.9" y="294" font-size="5.3" text-anchor="end" transform="rotate(-45 130.9 294)">0.5</text>
<text x="52.4" y="308.8" font-size="6.4" text-anchor="middle">Ctr.</text>
<text x="68.4" y="308.8" font-size="6.4" text-anchor="middle">AZA</text>
<text x="87.6" y="308.8" font-size="6.4" text-anchor="middle">DAC</text>
<text x="106.75" y="308.8" font-size="6.4" text-anchor="middle" textLength="16" lengthAdjust="spacingAndGlyphs">OR21</text>
<text x="125.9" y="308.8" font-size="6.4" text-anchor="middle" textLength="16" lengthAdjust="spacingAndGlyphs">OR12</text>
<text x="91.3" y="207.2" font-size="9" text-anchor="middle" textLength="18.4" lengthAdjust="spacingAndGlyphs">MT-1</text>
<text x="91.3" y="320" font-size="6.9" text-anchor="middle" textLength="15.4" lengthAdjust="spacingAndGlyphs">(μM)</text>
<text x="33.2" y="250.4" font-size="8" text-anchor="middle" transform="rotate(-90 33.2 250.4)" textLength="74" lengthAdjust="spacingAndGlyphs" stroke-width="0.05">Relative gene expression</text>
<rect x="161.6" y="286.6" width="4.2" height="1.4" fill="#5a9fdc"/>
<rect x="174" y="284.8" width="4.2" height="3.2" fill="#f4c98d"/>
<rect x="180.8" y="276" width="4.2" height="12" fill="#e38c12"/>
<rect x="193" y="272.7" width="4.2" height="15.3" fill="#a585b8"/>
<rect x="199.8" y="246.8" width="4.2" height="41.2" fill="#4a1860"/>
<rect x="212.6" y="257.2" width="4.2" height="30.8" fill="#e19a89"/>
<rect x="219.2" y="233.6" width="4.2" height="54.4" fill="#b3052f"/>
<rect x="231.7" y="287" width="4.2" height="1" fill="#c6e2a6"/>
<rect x="238.4" y="276" width="4.2" height="12" fill="#5aa83b"/>
<line x1="163.5" y1="285" x2="163.5" y2="287.5" stroke="#262626" stroke-width="0.85"/>
<line x1="161.8" y1="285" x2="165.2" y2="285" stroke="#262626" stroke-width="0.95"/>
<line x1="161.8" y1="287.5" x2="165.2" y2="287.5" stroke="#262626" stroke-width="0.95"/>
<line x1="176.5" y1="283.5" x2="176.5" y2="286" stroke="#262626" stroke-width="0.85"/>
<line x1="174.8" y1="283.5" x2="178.2" y2="283.5" stroke="#262626" stroke-width="0.95"/>
<line x1="174.8" y1="286" x2="178.2" y2="286" stroke="#262626" stroke-width="0.95"/>
<line x1="182.5" y1="270.6" x2="182.5" y2="280.6" stroke="#262626" stroke-width="0.85"/>
<line x1="180.8" y1="270.6" x2="184.2" y2="270.6" stroke="#262626" stroke-width="0.95"/>
<line x1="180.8" y1="280.6" x2="184.2" y2="280.6" stroke="#262626" stroke-width="0.95"/>
<line x1="195.5" y1="266.4" x2="195.5" y2="278.1" stroke="#262626" stroke-width="0.85"/>
<line x1="193.8" y1="266.4" x2="197.2" y2="266.4" stroke="#262626" stroke-width="0.95"/>
<line x1="193.8" y1="278.1" x2="197.2" y2="278.1" stroke="#262626" stroke-width="0.95"/>
<line x1="201.5" y1="235.3" x2="201.5" y2="255.5" stroke="#262626" stroke-width="0.85"/>
<line x1="199.8" y1="235.3" x2="203.2" y2="235.3" stroke="#262626" stroke-width="0.95"/>
<line x1="199.8" y1="255.5" x2="203.2" y2="255.5" stroke="#262626" stroke-width="0.95"/>
<line x1="214.5" y1="242" x2="214.5" y2="268" stroke="#262626" stroke-width="0.85"/>
<line x1="212.8" y1="242" x2="216.2" y2="242" stroke="#262626" stroke-width="0.95"/>
<line x1="212.8" y1="268" x2="216.2" y2="268" stroke="#262626" stroke-width="0.95"/>
<line x1="221.5" y1="219.6" x2="221.5" y2="245.1" stroke="#262626" stroke-width="0.85"/>
<line x1="219.8" y1="219.6" x2="223.2" y2="219.6" stroke="#262626" stroke-width="0.95"/>
<line x1="219.8" y1="245.1" x2="223.2" y2="245.1" stroke="#262626" stroke-width="0.95"/>
<line x1="233.5" y1="286.2" x2="233.5" y2="287.6" stroke="#262626" stroke-width="0.85"/>
<line x1="231.8" y1="286.2" x2="235.2" y2="286.2" stroke="#262626" stroke-width="0.95"/>
<line x1="231.8" y1="287.6" x2="235.2" y2="287.6" stroke="#262626" stroke-width="0.95"/>
<line x1="240.5" y1="271.6" x2="240.5" y2="279.6" stroke="#262626" stroke-width="0.85"/>
<line x1="238.8" y1="271.6" x2="242.2" y2="271.6" stroke="#262626" stroke-width="0.95"/>
<line x1="238.8" y1="279.6" x2="242.2" y2="279.6" stroke="#262626" stroke-width="0.95"/>
<line x1="160.2" y1="212.8" x2="160.2" y2="288.7" stroke="#2e2e2e" stroke-width="1.35"/>
<line x1="157.2" y1="288" x2="245.2" y2="288" stroke="#2e2e2e" stroke-width="1.45"/>
<line x1="157.2" y1="288" x2="160.2" y2="288" stroke="#2e2e2e" stroke-width="1"/>
<text x="154" y="290.94" font-size="6.5" text-anchor="end">0</text>
<line x1="157.2" y1="273.48" x2="160.2" y2="273.48" stroke="#2e2e2e" stroke-width="1"/>
<text x="154" y="276.42" font-size="6.5" text-anchor="end">10</text>
<line x1="157.2" y1="258.96" x2="160.2" y2="258.96" stroke="#2e2e2e" stroke-width="1"/>
<text x="154" y="261.9" font-size="6.5" text-anchor="end">20</text>
<line x1="157.2" y1="244.44" x2="160.2" y2="244.44" stroke="#2e2e2e" stroke-width="1"/>
<text x="154" y="247.38" font-size="6.5" text-anchor="end">30</text>
<line x1="157.2" y1="229.92" x2="160.2" y2="229.92" stroke="#2e2e2e" stroke-width="1"/>
<text x="154" y="232.86" font-size="6.5" text-anchor="end">40</text>
<line x1="157.2" y1="215.4" x2="160.2" y2="215.4" stroke="#2e2e2e" stroke-width="1"/>
<text x="154" y="218.34" font-size="6.5" text-anchor="end">50</text>
<text x="177.8" y="294" font-size="5.3" text-anchor="end" transform="rotate(-45 177.8 294)">0.1</text>
<text x="184.6" y="294" font-size="5.3" text-anchor="end" transform="rotate(-45 184.6 294)">0.5</text>
<text x="196.8" y="294" font-size="5.3" text-anchor="end" transform="rotate(-45 196.8 294)">0.1</text>
<text x="203.6" y="294" font-size="5.3" text-anchor="end" transform="rotate(-45 203.6 294)">0.5</text>
<text x="216.4" y="294" font-size="5.3" text-anchor="end" transform="rotate(-45 216.4 294)">0.1</text>
<text x="223" y="294" font-size="5.3" text-anchor="end" transform="rotate(-45 223 294)">0.5</text>
<text x="235.5" y="294" font-size="5.3" text-anchor="end" transform="rotate(-45 235.5 294)">0.1</text>
<text x="242.2" y="294" font-size="5.3" text-anchor="end" transform="rotate(-45 242.2 294)">0.5</text>
<text x="163.7" y="308.8" font-size="6.4" text-anchor="middle">Ctr.</text>
<text x="179.5" y="308.8" font-size="6.4" text-anchor="middle">AZA</text>
<text x="198.5" y="308.8" font-size="6.4" text-anchor="middle">DAC</text>
<text x="218" y="308.8" font-size="6.4" text-anchor="middle" textLength="16" lengthAdjust="spacingAndGlyphs">OR21</text>
<text x="237.15" y="308.8" font-size="6.4" text-anchor="middle" textLength="16" lengthAdjust="spacingAndGlyphs">OR12</text>
<text x="203" y="207.2" font-size="9" text-anchor="middle" textLength="18.4" lengthAdjust="spacingAndGlyphs">MT-2</text>
<text x="203" y="320" font-size="6.9" text-anchor="middle" textLength="15.4" lengthAdjust="spacingAndGlyphs">(μM)</text>
<rect x="294.6" y="273.7" width="4.2" height="14.1" fill="#5a9fdc"/>
<rect x="307.6" y="274.2" width="4.2" height="13.6" fill="#f4c98d"/>
<rect x="314" y="270.7" width="4.2" height="17.1" fill="#e38c12"/>
<rect x="326.9" y="264.2" width="4.2" height="23.6" fill="#a585b8"/>
<rect x="333.5" y="240" width="4.2" height="47.8" fill="#4a1860"/>
<rect x="346.2" y="267.2" width="4.2" height="20.6" fill="#e19a89"/>
<rect x="352.5" y="247" width="4.2" height="40.8" fill="#b3052f"/>
<rect x="365.2" y="274.9" width="4.2" height="12.9" fill="#c6e2a6"/>
<rect x="371.9" y="267.9" width="4.2" height="19.9" fill="#5aa83b"/>
<line x1="296.5" y1="259" x2="296.5" y2="281.2" stroke="#262626" stroke-width="0.85"/>
<line x1="294.8" y1="259" x2="298.2" y2="259" stroke="#262626" stroke-width="0.95"/>
<line x1="294.8" y1="281.2" x2="298.2" y2="281.2" stroke="#262626" stroke-width="0.95"/>
<line x1="309.5" y1="257.2" x2="309.5" y2="281.2" stroke="#262626" stroke-width="0.85"/>
<line x1="307.8" y1="257.2" x2="311.2" y2="257.2" stroke="#262626" stroke-width="0.95"/>
<line x1="307.8" y1="281.2" x2="311.2" y2="281.2" stroke="#262626" stroke-width="0.95"/>
<line x1="316.5" y1="252.6" x2="316.5" y2="279.5" stroke="#262626" stroke-width="0.85"/>
<line x1="314.8" y1="252.6" x2="318.2" y2="252.6" stroke="#262626" stroke-width="0.95"/>
<line x1="314.8" y1="279.5" x2="318.2" y2="279.5" stroke="#262626" stroke-width="0.95"/>
<line x1="329.5" y1="250.2" x2="329.5" y2="273" stroke="#262626" stroke-width="0.85"/>
<line x1="327.8" y1="250.2" x2="331.2" y2="250.2" stroke="#262626" stroke-width="0.95"/>
<line x1="327.8" y1="273" x2="331.2" y2="273" stroke="#262626" stroke-width="0.95"/>
<line x1="335.5" y1="220" x2="335.5" y2="253.3" stroke="#262626" stroke-width="0.85"/>
<line x1="333.8" y1="220" x2="337.2" y2="220" stroke="#262626" stroke-width="0.95"/>
<line x1="333.8" y1="253.3" x2="337.2" y2="253.3" stroke="#262626" stroke-width="0.95"/>
<line x1="348.5" y1="251.6" x2="348.5" y2="275.8" stroke="#262626" stroke-width="0.85"/>
<line x1="346.8" y1="251.6" x2="350.2" y2="251.6" stroke="#262626" stroke-width="0.95"/>
<line x1="346.8" y1="275.8" x2="350.2" y2="275.8" stroke="#262626" stroke-width="0.95"/>
<line x1="354.5" y1="230" x2="354.5" y2="258.6" stroke="#262626" stroke-width="0.85"/>
<line x1="352.8" y1="230" x2="356.2" y2="230" stroke="#262626" stroke-width="0.95"/>
<line x1="352.8" y1="258.6" x2="356.2" y2="258.6" stroke="#262626" stroke-width="0.95"/>
<line x1="367.5" y1="261.4" x2="367.5" y2="281.2" stroke="#262626" stroke-width="0.85"/>
<line x1="365.8" y1="261.4" x2="369.2" y2="261.4" stroke="#262626" stroke-width="0.95"/>
<line x1="365.8" y1="281.2" x2="369.2" y2="281.2" stroke="#262626" stroke-width="0.95"/>
<line x1="374.5" y1="256.3" x2="374.5" y2="275.8" stroke="#262626" stroke-width="0.85"/>
<line x1="372.8" y1="256.3" x2="376.2" y2="256.3" stroke="#262626" stroke-width="0.95"/>
<line x1="372.8" y1="275.8" x2="376.2" y2="275.8" stroke="#262626" stroke-width="0.95"/>
<line x1="293.5" y1="212.8" x2="293.5" y2="288.5" stroke="#2e2e2e" stroke-width="1.35"/>
<line x1="290.5" y1="287.8" x2="378.8" y2="287.8" stroke="#2e2e2e" stroke-width="1.45"/>
<line x1="290.5" y1="287.8" x2="293.5" y2="287.8" stroke="#2e2e2e" stroke-width="1"/>
<text x="287.3" y="290.74" font-size="6.5" text-anchor="end">0</text>
<line x1="290.5" y1="273.46" x2="293.5" y2="273.46" stroke="#2e2e2e" stroke-width="1"/>
<text x="287.3" y="276.4" font-size="6.5" text-anchor="end">1</text>
<line x1="290.5" y1="259.12" x2="293.5" y2="259.12" stroke="#2e2e2e" stroke-width="1"/>
<text x="287.3" y="262.06" font-size="6.5" text-anchor="end">2</text>
<line x1="290.5" y1="244.78" x2="293.5" y2="244.78" stroke="#2e2e2e" stroke-width="1"/>
<text x="287.3" y="247.72" font-size="6.5" text-anchor="end">3</text>
<line x1="290.5" y1="230.44" x2="293.5" y2="230.44" stroke="#2e2e2e" stroke-width="1"/>
<text x="287.3" y="233.38" font-size="6.5" text-anchor="end">4</text>
<line x1="290.5" y1="216.1" x2="293.5" y2="216.1" stroke="#2e2e2e" stroke-width="1"/>
<text x="287.3" y="219.04" font-size="6.5" text-anchor="end">5</text>
<text x="311.4" y="293.8" font-size="5.3" text-anchor="end" transform="rotate(-45 311.4 293.8)">0.1</text>
<text x="317.8" y="293.8" font-size="5.3" text-anchor="end" transform="rotate(-45 317.8 293.8)">0.5</text>
<text x="330.7" y="293.8" font-size="5.3" text-anchor="end" transform="rotate(-45 330.7 293.8)">0.1</text>
<text x="337.3" y="293.8" font-size="5.3" text-anchor="end" transform="rotate(-45 337.3 293.8)">0.5</text>
<text x="350" y="293.8" font-size="5.3" text-anchor="end" transform="rotate(-45 350 293.8)">0.1</text>
<text x="356.3" y="293.8" font-size="5.3" text-anchor="end" transform="rotate(-45 356.3 293.8)">0.5</text>
<text x="369" y="293.8" font-size="5.3" text-anchor="end" transform="rotate(-45 369 293.8)">0.1</text>
<text x="375.7" y="293.8" font-size="5.3" text-anchor="end" transform="rotate(-45 375.7 293.8)">0.5</text>
<text x="296.7" y="308.6" font-size="6.4" text-anchor="middle">Ctr.</text>
<text x="312.9" y="308.6" font-size="6.4" text-anchor="middle">AZA</text>
<text x="332.3" y="308.6" font-size="6.4" text-anchor="middle">DAC</text>
<text x="351.45" y="308.6" font-size="6.4" text-anchor="middle" textLength="16" lengthAdjust="spacingAndGlyphs">OR21</text>
<text x="370.65" y="308.6" font-size="6.4" text-anchor="middle" textLength="16" lengthAdjust="spacingAndGlyphs">OR12</text>
<text x="335.6" y="207.2" font-size="9" text-anchor="middle" textLength="18.4" lengthAdjust="spacingAndGlyphs">MT-1</text>
<text x="335.6" y="319.8" font-size="6.9" text-anchor="middle" textLength="15.4" lengthAdjust="spacingAndGlyphs">(μM)</text>
<text x="278.6" y="250.3" font-size="8" text-anchor="middle" transform="rotate(-90 278.6 250.3)" textLength="74" lengthAdjust="spacingAndGlyphs" stroke-width="0.05">Relative gene expression</text>
<rect x="404.4" y="270.2" width="4.2" height="17.8" fill="#5a9fdc"/>
<rect x="417" y="273.9" width="4.2" height="14.1" fill="#f4c98d"/>
<rect x="423.4" y="264.9" width="4.2" height="23.1" fill="#e38c12"/>
<rect x="435.7" y="266" width="4.2" height="22" fill="#a585b8"/>
<rect x="442.5" y="257.2" width="4.2" height="30.8" fill="#4a1860"/>
<rect x="455" y="266" width="4.2" height="22" fill="#e19a89"/>
<rect x="462" y="249.7" width="4.2" height="38.3" fill="#b3052f"/>
<rect x="474.3" y="275.4" width="4.2" height="12.6" fill="#c6e2a6"/>
<rect x="481" y="271.2" width="4.2" height="16.8" fill="#5aa83b"/>
<line x1="406.5" y1="266.8" x2="406.5" y2="274" stroke="#262626" stroke-width="0.85"/>
<line x1="404.8" y1="266.8" x2="408.2" y2="266.8" stroke="#262626" stroke-width="0.95"/>
<line x1="404.8" y1="274" x2="408.2" y2="274" stroke="#262626" stroke-width="0.95"/>
<line x1="419.5" y1="271.7" x2="419.5" y2="276.7" stroke="#262626" stroke-width="0.85"/>
<line x1="417.8" y1="271.7" x2="421.2" y2="271.7" stroke="#262626" stroke-width="0.95"/>
<line x1="417.8" y1="276.7" x2="421.2" y2="276.7" stroke="#262626" stroke-width="0.95"/>
<line x1="425.5" y1="258.2" x2="425.5" y2="271.1" stroke="#262626" stroke-width="0.85"/>
<line x1="423.8" y1="258.2" x2="427.2" y2="258.2" stroke="#262626" stroke-width="0.95"/>
<line x1="423.8" y1="271.1" x2="427.2" y2="271.1" stroke="#262626" stroke-width="0.95"/>
<line x1="437.5" y1="262.2" x2="437.5" y2="268.9" stroke="#262626" stroke-width="0.85"/>
<line x1="435.8" y1="262.2" x2="439.2" y2="262.2" stroke="#262626" stroke-width="0.95"/>
<line x1="435.8" y1="268.9" x2="439.2" y2="268.9" stroke="#262626" stroke-width="0.95"/>
<line x1="444.5" y1="251.7" x2="444.5" y2="262.2" stroke="#262626" stroke-width="0.85"/>
<line x1="442.8" y1="251.7" x2="446.2" y2="251.7" stroke="#262626" stroke-width="0.95"/>
<line x1="442.8" y1="262.2" x2="446.2" y2="262.2" stroke="#262626" stroke-width="0.95"/>
<line x1="457.5" y1="262.2" x2="457.5" y2="268.6" stroke="#262626" stroke-width="0.85"/>
<line x1="455.8" y1="262.2" x2="459.2" y2="262.2" stroke="#262626" stroke-width="0.95"/>
<line x1="455.8" y1="268.6" x2="459.2" y2="268.6" stroke="#262626" stroke-width="0.95"/>
<line x1="464.5" y1="228.1" x2="464.5" y2="263" stroke="#262626" stroke-width="0.85"/>
<line x1="462.8" y1="228.1" x2="466.2" y2="228.1" stroke="#262626" stroke-width="0.95"/>
<line x1="462.8" y1="263" x2="466.2" y2="263" stroke="#262626" stroke-width="0.95"/>
<line x1="476.5" y1="274.6" x2="476.5" y2="276.6" stroke="#262626" stroke-width="0.85"/>
<line x1="474.8" y1="274.6" x2="478.2" y2="274.6" stroke="#262626" stroke-width="0.95"/>
<line x1="474.8" y1="276.6" x2="478.2" y2="276.6" stroke="#262626" stroke-width="0.95"/>
<line x1="483.5" y1="266.6" x2="483.5" y2="275.4" stroke="#262626" stroke-width="0.85"/>
<line x1="481.8" y1="266.6" x2="485.2" y2="266.6" stroke="#262626" stroke-width="0.95"/>
<line x1="481.8" y1="275.4" x2="485.2" y2="275.4" stroke="#262626" stroke-width="0.95"/>
<line x1="402.8" y1="212.8" x2="402.8" y2="288.7" stroke="#2e2e2e" stroke-width="1.35"/>
<line x1="399.8" y1="288" x2="487.4" y2="288" stroke="#2e2e2e" stroke-width="1.45"/>
<line x1="399.8" y1="288" x2="402.8" y2="288" stroke="#2e2e2e" stroke-width="1"/>
<text x="396.6" y="290.94" font-size="6.5" text-anchor="end">0</text>
<line x1="399.8" y1="269.85" x2="402.8" y2="269.85" stroke="#2e2e2e" stroke-width="1"/>
<text x="396.6" y="272.79" font-size="6.5" text-anchor="end">1</text>
<line x1="399.8" y1="251.7" x2="402.8" y2="251.7" stroke="#2e2e2e" stroke-width="1"/>
<text x="396.6" y="254.64" font-size="6.5" text-anchor="end">2</text>
<line x1="399.8" y1="233.55" x2="402.8" y2="233.55" stroke="#2e2e2e" stroke-width="1"/>
<text x="396.6" y="236.49" font-size="6.5" text-anchor="end">3</text>
<line x1="399.8" y1="215.4" x2="402.8" y2="215.4" stroke="#2e2e2e" stroke-width="1"/>
<text x="396.6" y="218.34" font-size="6.5" text-anchor="end">4</text>
<text x="420.8" y="294" font-size="5.3" text-anchor="end" transform="rotate(-45 420.8 294)">0.1</text>
<text x="427.2" y="294" font-size="5.3" text-anchor="end" transform="rotate(-45 427.2 294)">0.5</text>
<text x="439.5" y="294" font-size="5.3" text-anchor="end" transform="rotate(-45 439.5 294)">0.1</text>
<text x="446.3" y="294" font-size="5.3" text-anchor="end" transform="rotate(-45 446.3 294)">0.5</text>
<text x="458.8" y="294" font-size="5.3" text-anchor="end" transform="rotate(-45 458.8 294)">0.1</text>
<text x="465.8" y="294" font-size="5.3" text-anchor="end" transform="rotate(-45 465.8 294)">0.5</text>
<text x="478.1" y="294" font-size="5.3" text-anchor="end" transform="rotate(-45 478.1 294)">0.1</text>
<text x="484.8" y="294" font-size="5.3" text-anchor="end" transform="rotate(-45 484.8 294)">0.5</text>
<text x="406.5" y="308.8" font-size="6.4" text-anchor="middle">Ctr.</text>
<text x="422.3" y="308.8" font-size="6.4" text-anchor="middle">AZA</text>
<text x="441.2" y="308.8" font-size="6.4" text-anchor="middle">DAC</text>
<text x="460.6" y="308.8" font-size="6.4" text-anchor="middle" textLength="16" lengthAdjust="spacingAndGlyphs">OR21</text>
<text x="479.75" y="308.8" font-size="6.4" text-anchor="middle" textLength="16" lengthAdjust="spacingAndGlyphs">OR12</text>
<text x="445.3" y="207.2" font-size="9" text-anchor="middle" textLength="18.4" lengthAdjust="spacingAndGlyphs">MT-2</text>
<text x="445.3" y="320" font-size="6.9" text-anchor="middle" textLength="15.4" lengthAdjust="spacingAndGlyphs">(μM)</text>
<rect x="50.3" y="426.2" width="4.2" height="6.4" fill="#5a9fdc"/>
<rect x="62.9" y="422.1" width="4.2" height="10.5" fill="#f4c98d"/>
<rect x="69.7" y="421.7" width="4.2" height="10.9" fill="#e38c12"/>
<rect x="82.1" y="412" width="4.2" height="20.6" fill="#a585b8"/>
<rect x="88.9" y="388" width="4.2" height="44.6" fill="#4a1860"/>
<rect x="101.3" y="415.4" width="4.2" height="17.2" fill="#e19a89"/>
<rect x="108" y="403.7" width="4.2" height="28.9" fill="#b3052f"/>
<rect x="120.5" y="424.1" width="4.2" height="8.5" fill="#c6e2a6"/>
<rect x="127.1" y="417.6" width="4.2" height="15" fill="#5aa83b"/>
<line x1="52.5" y1="418" x2="52.5" y2="430" stroke="#262626" stroke-width="0.85"/>
<line x1="50.8" y1="418" x2="54.2" y2="418" stroke="#262626" stroke-width="0.95"/>
<line x1="50.8" y1="430" x2="54.2" y2="430" stroke="#262626" stroke-width="0.95"/>
<line x1="65.5" y1="412.7" x2="65.5" y2="427.1" stroke="#262626" stroke-width="0.85"/>
<line x1="63.8" y1="412.7" x2="67.2" y2="412.7" stroke="#262626" stroke-width="0.95"/>
<line x1="63.8" y1="427.1" x2="67.2" y2="427.1" stroke="#262626" stroke-width="0.95"/>
<line x1="71.5" y1="412.7" x2="71.5" y2="426.6" stroke="#262626" stroke-width="0.85"/>
<line x1="69.8" y1="412.7" x2="73.2" y2="412.7" stroke="#262626" stroke-width="0.95"/>
<line x1="69.8" y1="426.6" x2="73.2" y2="426.6" stroke="#262626" stroke-width="0.95"/>
<line x1="84.5" y1="401.5" x2="84.5" y2="419.9" stroke="#262626" stroke-width="0.85"/>
<line x1="82.8" y1="401.5" x2="86.2" y2="401.5" stroke="#262626" stroke-width="0.95"/>
<line x1="82.8" y1="419.9" x2="86.2" y2="419.9" stroke="#262626" stroke-width="0.95"/>
<line x1="91.5" y1="372.2" x2="91.5" y2="398.5" stroke="#262626" stroke-width="0.85"/>
<line x1="89.8" y1="372.2" x2="93.2" y2="372.2" stroke="#262626" stroke-width="0.95"/>
<line x1="89.8" y1="398.5" x2="93.2" y2="398.5" stroke="#262626" stroke-width="0.95"/>
<line x1="103.5" y1="400.8" x2="103.5" y2="423.3" stroke="#262626" stroke-width="0.85"/>
<line x1="101.8" y1="400.8" x2="105.2" y2="400.8" stroke="#262626" stroke-width="0.95"/>
<line x1="101.8" y1="423.3" x2="105.2" y2="423.3" stroke="#262626" stroke-width="0.95"/>
<line x1="110.5" y1="395.6" x2="110.5" y2="409.8" stroke="#262626" stroke-width="0.85"/>
<line x1="108.8" y1="395.6" x2="112.2" y2="395.6" stroke="#262626" stroke-width="0.95"/>
<line x1="108.8" y1="409.8" x2="112.2" y2="409.8" stroke="#262626" stroke-width="0.95"/>
<line x1="122.5" y1="420.7" x2="122.5" y2="426.5" stroke="#262626" stroke-width="0.85"/>
<line x1="120.8" y1="420.7" x2="124.2" y2="420.7" stroke="#262626" stroke-width="0.95"/>
<line x1="120.8" y1="426.5" x2="124.2" y2="426.5" stroke="#262626" stroke-width="0.95"/>
<line x1="129.5" y1="406.7" x2="129.5" y2="424.1" stroke="#262626" stroke-width="0.85"/>
<line x1="127.8" y1="406.7" x2="131.2" y2="406.7" stroke="#262626" stroke-width="0.95"/>
<line x1="127.8" y1="424.1" x2="131.2" y2="424.1" stroke="#262626" stroke-width="0.95"/>
<line x1="48.8" y1="358" x2="48.8" y2="433.3" stroke="#2e2e2e" stroke-width="1.35"/>
<line x1="45.8" y1="432.6" x2="133.7" y2="432.6" stroke="#2e2e2e" stroke-width="1.45"/>
<line x1="45.8" y1="432.6" x2="48.8" y2="432.6" stroke="#2e2e2e" stroke-width="1"/>
<text x="42.6" y="435.54" font-size="6.5" text-anchor="end">0</text>
<line x1="45.8" y1="418.04" x2="48.8" y2="418.04" stroke="#2e2e2e" stroke-width="1"/>
<text x="42.6" y="420.98" font-size="6.5" text-anchor="end">2</text>
<line x1="45.8" y1="403.48" x2="48.8" y2="403.48" stroke="#2e2e2e" stroke-width="1"/>
<text x="42.6" y="406.42" font-size="6.5" text-anchor="end">4</text>
<line x1="45.8" y1="388.92" x2="48.8" y2="388.92" stroke="#2e2e2e" stroke-width="1"/>
<text x="42.6" y="391.86" font-size="6.5" text-anchor="end">6</text>
<line x1="45.8" y1="374.36" x2="48.8" y2="374.36" stroke="#2e2e2e" stroke-width="1"/>
<text x="42.6" y="377.3" font-size="6.5" text-anchor="end">8</text>
<line x1="45.8" y1="359.8" x2="48.8" y2="359.8" stroke="#2e2e2e" stroke-width="1"/>
<text x="42.6" y="362.74" font-size="6.5" text-anchor="end">10</text>
<text x="66.7" y="438.6" font-size="5.3" text-anchor="end" transform="rotate(-45 66.7 438.6)">0.1</text>
<text x="73.5" y="438.6" font-size="5.3" text-anchor="end" transform="rotate(-45 73.5 438.6)">0.5</text>
<text x="85.9" y="438.6" font-size="5.3" text-anchor="end" transform="rotate(-45 85.9 438.6)">0.1</text>
<text x="92.7" y="438.6" font-size="5.3" text-anchor="end" transform="rotate(-45 92.7 438.6)">0.5</text>
<text x="105.1" y="438.6" font-size="5.3" text-anchor="end" transform="rotate(-45 105.1 438.6)">0.1</text>
<text x="111.8" y="438.6" font-size="5.3" text-anchor="end" transform="rotate(-45 111.8 438.6)">0.5</text>
<text x="124.3" y="438.6" font-size="5.3" text-anchor="end" transform="rotate(-45 124.3 438.6)">0.1</text>
<text x="130.9" y="438.6" font-size="5.3" text-anchor="end" transform="rotate(-45 130.9 438.6)">0.5</text>
<text x="52.4" y="454" font-size="6.4" text-anchor="middle">Ctr.</text>
<text x="68.4" y="454" font-size="6.4" text-anchor="middle">AZA</text>
<text x="87.6" y="454" font-size="6.4" text-anchor="middle">DAC</text>
<text x="106.75" y="454" font-size="6.4" text-anchor="middle" textLength="16" lengthAdjust="spacingAndGlyphs">OR21</text>
<text x="125.9" y="454" font-size="6.4" text-anchor="middle" textLength="16" lengthAdjust="spacingAndGlyphs">OR12</text>
<text x="91.1" y="352.7" font-size="9" text-anchor="middle" textLength="18.4" lengthAdjust="spacingAndGlyphs">MT-1</text>
<text x="91.1" y="464.6" font-size="6.9" text-anchor="middle" textLength="15.4" lengthAdjust="spacingAndGlyphs">(μM)</text>
<text x="30.9" y="395.3" font-size="8" text-anchor="middle" transform="rotate(-90 30.9 395.3)" textLength="74" lengthAdjust="spacingAndGlyphs" stroke-width="0.05">Relative gene expression</text>
<rect x="161.6" y="421.2" width="4.2" height="11.3" fill="#5a9fdc"/>
<rect x="174" y="416.4" width="4.2" height="16.1" fill="#f4c98d"/>
<rect x="180.8" y="415.2" width="4.2" height="17.3" fill="#e38c12"/>
<rect x="193" y="406.5" width="4.2" height="26" fill="#a585b8"/>
<rect x="199.8" y="396.3" width="4.2" height="36.2" fill="#4a1860"/>
<rect x="212.6" y="404.2" width="4.2" height="28.3" fill="#e19a89"/>
<rect x="219.2" y="386.2" width="4.2" height="46.3" fill="#b3052f"/>
<rect x="231.7" y="418.8" width="4.2" height="13.7" fill="#c6e2a6"/>
<rect x="238.4" y="409.8" width="4.2" height="22.7" fill="#5aa83b"/>
<line x1="163.5" y1="417.6" x2="163.5" y2="424.1" stroke="#262626" stroke-width="0.85"/>
<line x1="161.8" y1="417.6" x2="165.2" y2="417.6" stroke="#262626" stroke-width="0.95"/>
<line x1="161.8" y1="424.1" x2="165.2" y2="424.1" stroke="#262626" stroke-width="0.95"/>
<line x1="176.5" y1="408.7" x2="176.5" y2="421.7" stroke="#262626" stroke-width="0.85"/>
<line x1="174.8" y1="408.7" x2="178.2" y2="408.7" stroke="#262626" stroke-width="0.95"/>
<line x1="174.8" y1="421.7" x2="178.2" y2="421.7" stroke="#262626" stroke-width="0.95"/>
<line x1="182.5" y1="408" x2="182.5" y2="421.2" stroke="#262626" stroke-width="0.85"/>
<line x1="180.8" y1="408" x2="184.2" y2="408" stroke="#262626" stroke-width="0.95"/>
<line x1="180.8" y1="421.2" x2="184.2" y2="421.2" stroke="#262626" stroke-width="0.95"/>
<line x1="195.5" y1="397.3" x2="195.5" y2="412.7" stroke="#262626" stroke-width="0.85"/>
<line x1="193.8" y1="397.3" x2="197.2" y2="397.3" stroke="#262626" stroke-width="0.95"/>
<line x1="193.8" y1="412.7" x2="197.2" y2="412.7" stroke="#262626" stroke-width="0.95"/>
<line x1="201.5" y1="382.8" x2="201.5" y2="406" stroke="#262626" stroke-width="0.85"/>
<line x1="199.8" y1="382.8" x2="203.2" y2="382.8" stroke="#262626" stroke-width="0.95"/>
<line x1="199.8" y1="406" x2="203.2" y2="406" stroke="#262626" stroke-width="0.95"/>
<line x1="214.5" y1="392.5" x2="214.5" y2="412.5" stroke="#262626" stroke-width="0.85"/>
<line x1="212.8" y1="392.5" x2="216.2" y2="392.5" stroke="#262626" stroke-width="0.95"/>
<line x1="212.8" y1="412.5" x2="216.2" y2="412.5" stroke="#262626" stroke-width="0.95"/>
<line x1="221.5" y1="363.7" x2="221.5" y2="401.5" stroke="#262626" stroke-width="0.85"/>
<line x1="219.8" y1="363.7" x2="223.2" y2="363.7" stroke="#262626" stroke-width="0.95"/>
<line x1="219.8" y1="401.5" x2="223.2" y2="401.5" stroke="#262626" stroke-width="0.95"/>
<line x1="233.5" y1="415.4" x2="233.5" y2="422.1" stroke="#262626" stroke-width="0.85"/>
<line x1="231.8" y1="415.4" x2="235.2" y2="415.4" stroke="#262626" stroke-width="0.95"/>
<line x1="231.8" y1="422.1" x2="235.2" y2="422.1" stroke="#262626" stroke-width="0.95"/>
<line x1="240.5" y1="397" x2="240.5" y2="417.6" stroke="#262626" stroke-width="0.85"/>
<line x1="238.8" y1="397" x2="242.2" y2="397" stroke="#262626" stroke-width="0.95"/>
<line x1="238.8" y1="417.6" x2="242.2" y2="417.6" stroke="#262626" stroke-width="0.95"/>
<line x1="160" y1="358" x2="160" y2="433.2" stroke="#2e2e2e" stroke-width="1.35"/>
<line x1="157" y1="432.5" x2="245.2" y2="432.5" stroke="#2e2e2e" stroke-width="1.45"/>
<line x1="157" y1="432.5" x2="160" y2="432.5" stroke="#2e2e2e" stroke-width="1"/>
<text x="153.8" y="435.44" font-size="6.5" text-anchor="end">0</text>
<line x1="157" y1="420.5" x2="160" y2="420.5" stroke="#2e2e2e" stroke-width="1"/>
<text x="153.8" y="423.44" font-size="6.5" text-anchor="end">1</text>
<line x1="157" y1="408.5" x2="160" y2="408.5" stroke="#2e2e2e" stroke-width="1"/>
<text x="153.8" y="411.44" font-size="6.5" text-anchor="end">2</text>
<line x1="157" y1="396.5" x2="160" y2="396.5" stroke="#2e2e2e" stroke-width="1"/>
<text x="153.8" y="399.44" font-size="6.5" text-anchor="end">3</text>
<line x1="157" y1="384.5" x2="160" y2="384.5" stroke="#2e2e2e" stroke-width="1"/>
<text x="153.8" y="387.44" font-size="6.5" text-anchor="end">4</text>
<line x1="157" y1="372.5" x2="160" y2="372.5" stroke="#2e2e2e" stroke-width="1"/>
<text x="153.8" y="375.44" font-size="6.5" text-anchor="end">5</text>
<line x1="157" y1="360.5" x2="160" y2="360.5" stroke="#2e2e2e" stroke-width="1"/>
<text x="153.8" y="363.44" font-size="6.5" text-anchor="end">6</text>
<text x="177.8" y="438.5" font-size="5.3" text-anchor="end" transform="rotate(-45 177.8 438.5)">0.1</text>
<text x="184.6" y="438.5" font-size="5.3" text-anchor="end" transform="rotate(-45 184.6 438.5)">0.5</text>
<text x="196.8" y="438.5" font-size="5.3" text-anchor="end" transform="rotate(-45 196.8 438.5)">0.1</text>
<text x="203.6" y="438.5" font-size="5.3" text-anchor="end" transform="rotate(-45 203.6 438.5)">0.5</text>
<text x="216.4" y="438.5" font-size="5.3" text-anchor="end" transform="rotate(-45 216.4 438.5)">0.1</text>
<text x="223" y="438.5" font-size="5.3" text-anchor="end" transform="rotate(-45 223 438.5)">0.5</text>
<text x="235.5" y="438.5" font-size="5.3" text-anchor="end" transform="rotate(-45 235.5 438.5)">0.1</text>
<text x="242.2" y="438.5" font-size="5.3" text-anchor="end" transform="rotate(-45 242.2 438.5)">0.5</text>
<text x="163.7" y="453.9" font-size="6.4" text-anchor="middle">Ctr.</text>
<text x="179.5" y="453.9" font-size="6.4" text-anchor="middle">AZA</text>
<text x="198.5" y="453.9" font-size="6.4" text-anchor="middle">DAC</text>
<text x="218" y="453.9" font-size="6.4" text-anchor="middle" textLength="16" lengthAdjust="spacingAndGlyphs">OR21</text>
<text x="237.15" y="453.9" font-size="6.4" text-anchor="middle" textLength="16" lengthAdjust="spacingAndGlyphs">OR12</text>
<text x="202.7" y="352.7" font-size="9" text-anchor="middle" textLength="18.4" lengthAdjust="spacingAndGlyphs">MT-2</text>
<text x="202.7" y="464.5" font-size="6.9" text-anchor="middle" textLength="15.4" lengthAdjust="spacingAndGlyphs">(μM)</text>
<rect x="294.6" y="431.6" width="4.2" height="1" fill="#5a9fdc"/>
<rect x="307.6" y="431.8" width="4.2" height="0.8" fill="#f4c98d"/>
<rect x="314" y="431.8" width="4.2" height="0.8" fill="#e38c12"/>
<rect x="326.9" y="429.2" width="4.2" height="3.4" fill="#a585b8"/>
<rect x="333.5" y="371.8" width="4.2" height="60.8" fill="#4a1860"/>
<rect x="346.2" y="426" width="4.2" height="6.6" fill="#e19a89"/>
<rect x="352.5" y="387.5" width="4.2" height="45.1" fill="#b3052f"/>
<rect x="365.2" y="431.6" width="4.2" height="1" fill="#c6e2a6"/>
<rect x="371.9" y="430.2" width="4.2" height="2.4" fill="#5aa83b"/>
<line x1="296.5" y1="430.6" x2="296.5" y2="432.3" stroke="#262626" stroke-width="0.85"/>
<line x1="294.8" y1="430.6" x2="298.2" y2="430.6" stroke="#262626" stroke-width="0.95"/>
<line x1="294.8" y1="432.3" x2="298.2" y2="432.3" stroke="#262626" stroke-width="0.95"/>
<line x1="309.5" y1="429.5" x2="309.5" y2="432.3" stroke="#262626" stroke-width="0.85"/>
<line x1="307.8" y1="429.5" x2="311.2" y2="429.5" stroke="#262626" stroke-width="0.95"/>
<line x1="307.8" y1="432.3" x2="311.2" y2="432.3" stroke="#262626" stroke-width="0.95"/>
<line x1="316.5" y1="430.6" x2="316.5" y2="432.3" stroke="#262626" stroke-width="0.85"/>
<line x1="314.8" y1="430.6" x2="318.2" y2="430.6" stroke="#262626" stroke-width="0.95"/>
<line x1="314.8" y1="432.3" x2="318.2" y2="432.3" stroke="#262626" stroke-width="0.95"/>
<line x1="329.5" y1="427.4" x2="329.5" y2="430.6" stroke="#262626" stroke-width="0.85"/>
<line x1="327.8" y1="427.4" x2="331.2" y2="427.4" stroke="#262626" stroke-width="0.95"/>
<line x1="327.8" y1="430.6" x2="331.2" y2="430.6" stroke="#262626" stroke-width="0.95"/>
<line x1="335.5" y1="368.2" x2="335.5" y2="373.5" stroke="#262626" stroke-width="0.85"/>
<line x1="333.8" y1="368.2" x2="337.2" y2="368.2" stroke="#262626" stroke-width="0.95"/>
<line x1="333.8" y1="373.5" x2="337.2" y2="373.5" stroke="#262626" stroke-width="0.95"/>
<line x1="348.5" y1="424.2" x2="348.5" y2="427.4" stroke="#262626" stroke-width="0.85"/>
<line x1="346.8" y1="424.2" x2="350.2" y2="424.2" stroke="#262626" stroke-width="0.95"/>
<line x1="346.8" y1="427.4" x2="350.2" y2="427.4" stroke="#262626" stroke-width="0.95"/>
<line x1="354.5" y1="385" x2="354.5" y2="389.9" stroke="#262626" stroke-width="0.85"/>
<line x1="352.8" y1="385" x2="356.2" y2="385" stroke="#262626" stroke-width="0.95"/>
<line x1="352.8" y1="389.9" x2="356.2" y2="389.9" stroke="#262626" stroke-width="0.95"/>
<line x1="367.5" y1="431" x2="367.5" y2="432.2" stroke="#262626" stroke-width="0.85"/>
<line x1="365.8" y1="431" x2="369.2" y2="431" stroke="#262626" stroke-width="0.95"/>
<line x1="365.8" y1="432.2" x2="369.2" y2="432.2" stroke="#262626" stroke-width="0.95"/>
<line x1="374.5" y1="428.3" x2="374.5" y2="431.5" stroke="#262626" stroke-width="0.85"/>
<line x1="372.8" y1="428.3" x2="376.2" y2="428.3" stroke="#262626" stroke-width="0.95"/>
<line x1="372.8" y1="431.5" x2="376.2" y2="431.5" stroke="#262626" stroke-width="0.95"/>
<line x1="293.3" y1="358" x2="293.3" y2="433.3" stroke="#2e2e2e" stroke-width="1.35"/>
<line x1="290.3" y1="432.6" x2="378.8" y2="432.6" stroke="#2e2e2e" stroke-width="1.45"/>
<line x1="290.3" y1="432.6" x2="293.3" y2="432.6" stroke="#2e2e2e" stroke-width="1"/>
<text x="287.1" y="435.54" font-size="6.5" text-anchor="end">0</text>
<line x1="290.3" y1="418.15" x2="293.3" y2="418.15" stroke="#2e2e2e" stroke-width="1"/>
<text x="287.1" y="421.09" font-size="6.5" text-anchor="end">10</text>
<line x1="290.3" y1="403.7" x2="293.3" y2="403.7" stroke="#2e2e2e" stroke-width="1"/>
<text x="287.1" y="406.64" font-size="6.5" text-anchor="end">20</text>
<line x1="290.3" y1="389.25" x2="293.3" y2="389.25" stroke="#2e2e2e" stroke-width="1"/>
<text x="287.1" y="392.19" font-size="6.5" text-anchor="end">30</text>
<line x1="290.3" y1="374.8" x2="293.3" y2="374.8" stroke="#2e2e2e" stroke-width="1"/>
<text x="287.1" y="377.74" font-size="6.5" text-anchor="end">40</text>
<line x1="290.3" y1="360.35" x2="293.3" y2="360.35" stroke="#2e2e2e" stroke-width="1"/>
<text x="287.1" y="363.29" font-size="6.5" text-anchor="end">50</text>
<text x="311.4" y="438.6" font-size="5.3" text-anchor="end" transform="rotate(-45 311.4 438.6)">0.1</text>
<text x="317.8" y="438.6" font-size="5.3" text-anchor="end" transform="rotate(-45 317.8 438.6)">0.5</text>
<text x="330.7" y="438.6" font-size="5.3" text-anchor="end" transform="rotate(-45 330.7 438.6)">0.1</text>
<text x="337.3" y="438.6" font-size="5.3" text-anchor="end" transform="rotate(-45 337.3 438.6)">0.5</text>
<text x="350" y="438.6" font-size="5.3" text-anchor="end" transform="rotate(-45 350 438.6)">0.1</text>
<text x="356.3" y="438.6" font-size="5.3" text-anchor="end" transform="rotate(-45 356.3 438.6)">0.5</text>
<text x="369" y="438.6" font-size="5.3" text-anchor="end" transform="rotate(-45 369 438.6)">0.1</text>
<text x="375.7" y="438.6" font-size="5.3" text-anchor="end" transform="rotate(-45 375.7 438.6)">0.5</text>
<text x="296.7" y="454" font-size="6.4" text-anchor="middle">Ctr.</text>
<text x="312.9" y="454" font-size="6.4" text-anchor="middle">AZA</text>
<text x="332.3" y="454" font-size="6.4" text-anchor="middle">DAC</text>
<text x="351.45" y="454" font-size="6.4" text-anchor="middle" textLength="16" lengthAdjust="spacingAndGlyphs">OR21</text>
<text x="370.65" y="454" font-size="6.4" text-anchor="middle" textLength="16" lengthAdjust="spacingAndGlyphs">OR12</text>
<text x="335.9" y="352.7" font-size="9" text-anchor="middle" textLength="18.4" lengthAdjust="spacingAndGlyphs">MT-1</text>
<text x="335.9" y="464.6" font-size="6.9" text-anchor="middle" textLength="15.4" lengthAdjust="spacingAndGlyphs">(μM)</text>
<text x="274.4" y="395.3" font-size="8" text-anchor="middle" transform="rotate(-90 274.4 395.3)" textLength="74" lengthAdjust="spacingAndGlyphs" stroke-width="0.05">Relative gene expression</text>
<rect x="404.4" y="408.8" width="4.2" height="23.7" fill="#5a9fdc"/>
<rect x="417" y="421.3" width="4.2" height="11.2" fill="#f4c98d"/>
<rect x="423.4" y="421.3" width="4.2" height="11.2" fill="#e38c12"/>
<rect x="435.7" y="418.8" width="4.2" height="13.7" fill="#a585b8"/>
<rect x="442.5" y="404.3" width="4.2" height="28.2" fill="#4a1860"/>
<rect x="455" y="412.5" width="4.2" height="20" fill="#e19a89"/>
<rect x="462" y="400" width="4.2" height="32.5" fill="#b3052f"/>
<rect x="474.3" y="417.5" width="4.2" height="15" fill="#c6e2a6"/>
<rect x="481" y="418.3" width="4.2" height="14.2" fill="#5aa83b"/>
<line x1="406.5" y1="405.6" x2="406.5" y2="411.9" stroke="#262626" stroke-width="0.85"/>
<line x1="404.8" y1="405.6" x2="408.2" y2="405.6" stroke="#262626" stroke-width="0.95"/>
<line x1="404.8" y1="411.9" x2="408.2" y2="411.9" stroke="#262626" stroke-width="0.95"/>
<line x1="419.5" y1="415.1" x2="419.5" y2="423.8" stroke="#262626" stroke-width="0.85"/>
<line x1="417.8" y1="415.1" x2="421.2" y2="415.1" stroke="#262626" stroke-width="0.95"/>
<line x1="417.8" y1="423.8" x2="421.2" y2="423.8" stroke="#262626" stroke-width="0.95"/>
<line x1="425.5" y1="418.2" x2="425.5" y2="423.8" stroke="#262626" stroke-width="0.85"/>
<line x1="423.8" y1="418.2" x2="427.2" y2="418.2" stroke="#262626" stroke-width="0.95"/>
<line x1="423.8" y1="423.8" x2="427.2" y2="423.8" stroke="#262626" stroke-width="0.95"/>
<line x1="437.5" y1="412.7" x2="437.5" y2="422.6" stroke="#262626" stroke-width="0.85"/>
<line x1="435.8" y1="412.7" x2="439.2" y2="412.7" stroke="#262626" stroke-width="0.95"/>
<line x1="435.8" y1="422.6" x2="439.2" y2="422.6" stroke="#262626" stroke-width="0.95"/>
<line x1="444.5" y1="385.6" x2="444.5" y2="415.1" stroke="#262626" stroke-width="0.85"/>
<line x1="442.8" y1="385.6" x2="446.2" y2="385.6" stroke="#262626" stroke-width="0.95"/>
<line x1="442.8" y1="415.1" x2="446.2" y2="415.1" stroke="#262626" stroke-width="0.95"/>
<line x1="457.5" y1="412" x2="457.5" y2="413.3" stroke="#262626" stroke-width="0.85"/>
<line x1="455.8" y1="412" x2="459.2" y2="412" stroke="#262626" stroke-width="0.95"/>
<line x1="455.8" y1="413.3" x2="459.2" y2="413.3" stroke="#262626" stroke-width="0.95"/>
<line x1="464.5" y1="378.8" x2="464.5" y2="412.9" stroke="#262626" stroke-width="0.85"/>
<line x1="462.8" y1="378.8" x2="466.2" y2="378.8" stroke="#262626" stroke-width="0.95"/>
<line x1="462.8" y1="412.9" x2="466.2" y2="412.9" stroke="#262626" stroke-width="0.95"/>
<line x1="476.5" y1="407.6" x2="476.5" y2="423.1" stroke="#262626" stroke-width="0.85"/>
<line x1="474.8" y1="407.6" x2="478.2" y2="407.6" stroke="#262626" stroke-width="0.95"/>
<line x1="474.8" y1="423.1" x2="478.2" y2="423.1" stroke="#262626" stroke-width="0.95"/>
<line x1="483.5" y1="398.6" x2="483.5" y2="427.4" stroke="#262626" stroke-width="0.85"/>
<line x1="481.8" y1="398.6" x2="485.2" y2="398.6" stroke="#262626" stroke-width="0.95"/>
<line x1="481.8" y1="427.4" x2="485.2" y2="427.4" stroke="#262626" stroke-width="0.95"/>
<line x1="402.6" y1="358" x2="402.6" y2="433.2" stroke="#2e2e2e" stroke-width="1.35"/>
<line x1="399.6" y1="432.5" x2="487.5" y2="432.5" stroke="#2e2e2e" stroke-width="1.45"/>
<line x1="399.6" y1="432.5" x2="402.6" y2="432.5" stroke="#2e2e2e" stroke-width="1"/>
<text x="396.4" y="435.44" font-size="6.5" text-anchor="end">0</text>
<line x1="399.6" y1="408.3" x2="402.6" y2="408.3" stroke="#2e2e2e" stroke-width="1"/>
<text x="396.4" y="411.24" font-size="6.5" text-anchor="end">1</text>
<line x1="399.6" y1="384.1" x2="402.6" y2="384.1" stroke="#2e2e2e" stroke-width="1"/>
<text x="396.4" y="387.04" font-size="6.5" text-anchor="end">2</text>
<line x1="399.6" y1="359.9" x2="402.6" y2="359.9" stroke="#2e2e2e" stroke-width="1"/>
<text x="396.4" y="362.84" font-size="6.5" text-anchor="end">3</text>
<text x="420.8" y="438.5" font-size="5.3" text-anchor="end" transform="rotate(-45 420.8 438.5)">0.1</text>
<text x="427.2" y="438.5" font-size="5.3" text-anchor="end" transform="rotate(-45 427.2 438.5)">0.5</text>
<text x="439.5" y="438.5" font-size="5.3" text-anchor="end" transform="rotate(-45 439.5 438.5)">0.1</text>
<text x="446.3" y="438.5" font-size="5.3" text-anchor="end" transform="rotate(-45 446.3 438.5)">0.5</text>
<text x="458.8" y="438.5" font-size="5.3" text-anchor="end" transform="rotate(-45 458.8 438.5)">0.1</text>
<text x="465.8" y="438.5" font-size="5.3" text-anchor="end" transform="rotate(-45 465.8 438.5)">0.5</text>
<text x="478.1" y="438.5" font-size="5.3" text-anchor="end" transform="rotate(-45 478.1 438.5)">0.1</text>
<text x="484.8" y="438.5" font-size="5.3" text-anchor="end" transform="rotate(-45 484.8 438.5)">0.5</text>
<text x="406.5" y="453.9" font-size="6.4" text-anchor="middle">Ctr.</text>
<text x="422.3" y="453.9" font-size="6.4" text-anchor="middle">AZA</text>
<text x="441.2" y="453.9" font-size="6.4" text-anchor="middle">DAC</text>
<text x="460.6" y="453.9" font-size="6.4" text-anchor="middle" textLength="16" lengthAdjust="spacingAndGlyphs">OR21</text>
<text x="479.75" y="453.9" font-size="6.4" text-anchor="middle" textLength="16" lengthAdjust="spacingAndGlyphs">OR12</text>
<text x="445.25" y="352.7" font-size="9" text-anchor="middle" textLength="18.4" lengthAdjust="spacingAndGlyphs">MT-2</text>
<text x="445.25" y="464.5" font-size="6.9" text-anchor="middle" textLength="15.4" lengthAdjust="spacingAndGlyphs">(μM)</text>
<rect x="50.3" y="565.7" width="4.2" height="14.5" fill="#5a9fdc"/>
<rect x="62.9" y="555.8" width="4.2" height="24.4" fill="#f4c98d"/>
<rect x="69.7" y="546.6" width="4.2" height="33.6" fill="#e38c12"/>
<rect x="82.1" y="537.1" width="4.2" height="43.1" fill="#a585b8"/>
<rect x="88.9" y="524.2" width="4.2" height="56" fill="#4a1860"/>
<rect x="101.3" y="540.9" width="4.2" height="39.3" fill="#e19a89"/>
<rect x="108" y="524.2" width="4.2" height="56" fill="#b3052f"/>
<rect x="120.5" y="564" width="4.2" height="16.2" fill="#c6e2a6"/>
<rect x="127.1" y="544.6" width="4.2" height="35.6" fill="#5aa83b"/>
<line x1="52.5" y1="557" x2="52.5" y2="574" stroke="#262626" stroke-width="0.85"/>
<line x1="50.8" y1="557" x2="54.2" y2="557" stroke="#262626" stroke-width="0.95"/>
<line x1="50.8" y1="574" x2="54.2" y2="574" stroke="#262626" stroke-width="0.95"/>
<line x1="65.5" y1="549.6" x2="65.5" y2="562.5" stroke="#262626" stroke-width="0.85"/>
<line x1="63.8" y1="549.6" x2="67.2" y2="549.6" stroke="#262626" stroke-width="0.95"/>
<line x1="63.8" y1="562.5" x2="67.2" y2="562.5" stroke="#262626" stroke-width="0.95"/>
<line x1="71.5" y1="540.4" x2="71.5" y2="553.3" stroke="#262626" stroke-width="0.85"/>
<line x1="69.8" y1="540.4" x2="73.2" y2="540.4" stroke="#262626" stroke-width="0.95"/>
<line x1="69.8" y1="553.3" x2="73.2" y2="553.3" stroke="#262626" stroke-width="0.95"/>
<line x1="84.5" y1="531.7" x2="84.5" y2="542.6" stroke="#262626" stroke-width="0.85"/>
<line x1="82.8" y1="531.7" x2="86.2" y2="531.7" stroke="#262626" stroke-width="0.95"/>
<line x1="82.8" y1="542.6" x2="86.2" y2="542.6" stroke="#262626" stroke-width="0.95"/>
<line x1="91.5" y1="511" x2="91.5" y2="537.1" stroke="#262626" stroke-width="0.85"/>
<line x1="89.8" y1="511" x2="93.2" y2="511" stroke="#262626" stroke-width="0.95"/>
<line x1="89.8" y1="537.1" x2="93.2" y2="537.1" stroke="#262626" stroke-width="0.95"/>
<line x1="103.5" y1="535.1" x2="103.5" y2="547.1" stroke="#262626" stroke-width="0.85"/>
<line x1="101.8" y1="535.1" x2="105.2" y2="535.1" stroke="#262626" stroke-width="0.95"/>
<line x1="101.8" y1="547.1" x2="105.2" y2="547.1" stroke="#262626" stroke-width="0.95"/>
<line x1="110.5" y1="514.8" x2="110.5" y2="533.4" stroke="#262626" stroke-width="0.85"/>
<line x1="108.8" y1="514.8" x2="112.2" y2="514.8" stroke="#262626" stroke-width="0.95"/>
<line x1="108.8" y1="533.4" x2="112.2" y2="533.4" stroke="#262626" stroke-width="0.95"/>
<line x1="122.5" y1="553.3" x2="122.5" y2="573.2" stroke="#262626" stroke-width="0.85"/>
<line x1="120.8" y1="553.3" x2="124.2" y2="553.3" stroke="#262626" stroke-width="0.95"/>
<line x1="120.8" y1="573.2" x2="124.2" y2="573.2" stroke="#262626" stroke-width="0.95"/>
<line x1="129.5" y1="540.4" x2="129.5" y2="549.6" stroke="#262626" stroke-width="0.85"/>
<line x1="127.8" y1="540.4" x2="131.2" y2="540.4" stroke="#262626" stroke-width="0.95"/>
<line x1="127.8" y1="549.6" x2="131.2" y2="549.6" stroke="#262626" stroke-width="0.95"/>
<line x1="49.1" y1="503.6" x2="49.1" y2="580.9" stroke="#2e2e2e" stroke-width="1.35"/>
<line x1="46.1" y1="580.2" x2="133.6" y2="580.2" stroke="#2e2e2e" stroke-width="1.45"/>
<line x1="46.1" y1="580.2" x2="49.1" y2="580.2" stroke="#2e2e2e" stroke-width="1"/>
<text x="42.9" y="583.14" font-size="6.5" text-anchor="end">0</text>
<line x1="46.1" y1="565.35" x2="49.1" y2="565.35" stroke="#2e2e2e" stroke-width="1"/>
<text x="42.9" y="568.29" font-size="6.5" text-anchor="end">1</text>
<line x1="46.1" y1="550.5" x2="49.1" y2="550.5" stroke="#2e2e2e" stroke-width="1"/>
<text x="42.9" y="553.44" font-size="6.5" text-anchor="end">3</text>
<line x1="46.1" y1="535.65" x2="49.1" y2="535.65" stroke="#2e2e2e" stroke-width="1"/>
<text x="42.9" y="538.59" font-size="6.5" text-anchor="end">9</text>
<line x1="46.1" y1="520.8" x2="49.1" y2="520.8" stroke="#2e2e2e" stroke-width="1"/>
<text x="42.9" y="523.74" font-size="6.5" text-anchor="end">27</text>
<line x1="46.1" y1="505.95" x2="49.1" y2="505.95" stroke="#2e2e2e" stroke-width="1"/>
<text x="42.9" y="508.89" font-size="6.5" text-anchor="end">81</text>
<text x="66.7" y="586.2" font-size="5.3" text-anchor="end" transform="rotate(-45 66.7 586.2)">0.1</text>
<text x="73.5" y="586.2" font-size="5.3" text-anchor="end" transform="rotate(-45 73.5 586.2)">0.5</text>
<text x="85.9" y="586.2" font-size="5.3" text-anchor="end" transform="rotate(-45 85.9 586.2)">0.1</text>
<text x="92.7" y="586.2" font-size="5.3" text-anchor="end" transform="rotate(-45 92.7 586.2)">0.5</text>
<text x="105.1" y="586.2" font-size="5.3" text-anchor="end" transform="rotate(-45 105.1 586.2)">0.1</text>
<text x="111.8" y="586.2" font-size="5.3" text-anchor="end" transform="rotate(-45 111.8 586.2)">0.5</text>
<text x="124.3" y="586.2" font-size="5.3" text-anchor="end" transform="rotate(-45 124.3 586.2)">0.1</text>
<text x="130.9" y="586.2" font-size="5.3" text-anchor="end" transform="rotate(-45 130.9 586.2)">0.5</text>
<text x="52.4" y="601.6" font-size="6.4" text-anchor="middle">Ctr.</text>
<text x="68.4" y="601.6" font-size="6.4" text-anchor="middle">AZA</text>
<text x="87.6" y="601.6" font-size="6.4" text-anchor="middle">DAC</text>
<text x="106.75" y="601.6" font-size="6.4" text-anchor="middle" textLength="16" lengthAdjust="spacingAndGlyphs">OR21</text>
<text x="125.9" y="601.6" font-size="6.4" text-anchor="middle" textLength="16" lengthAdjust="spacingAndGlyphs">OR12</text>
<text x="91.5" y="497.4" font-size="9" text-anchor="middle" textLength="18.4" lengthAdjust="spacingAndGlyphs">MT-1</text>
<text x="91.5" y="612.5" font-size="6.9" text-anchor="middle" textLength="15.4" lengthAdjust="spacingAndGlyphs">(μM)</text>
<text x="29.2" y="541.9" font-size="8" text-anchor="middle" transform="rotate(-90 29.2 541.9)" textLength="74" lengthAdjust="spacingAndGlyphs" stroke-width="0.05">Relative gene expression</text>
<rect x="161.6" y="565.7" width="4.2" height="14.5" fill="#5a9fdc"/>
<rect x="174" y="547.6" width="4.2" height="32.6" fill="#f4c98d"/>
<rect x="180.8" y="537.6" width="4.2" height="42.6" fill="#e38c12"/>
<rect x="193" y="537.1" width="4.2" height="43.1" fill="#a585b8"/>
<rect x="199.8" y="519.2" width="4.2" height="61" fill="#4a1860"/>
<rect x="212.6" y="534.2" width="4.2" height="46" fill="#e19a89"/>
<rect x="219.2" y="511.5" width="4.2" height="68.7" fill="#b3052f"/>
<rect x="231.7" y="565.2" width="4.2" height="15" fill="#c6e2a6"/>
<rect x="238.4" y="545.1" width="4.2" height="35.1" fill="#5aa83b"/>
<line x1="163.5" y1="556.3" x2="163.5" y2="574.5" stroke="#262626" stroke-width="0.85"/>
<line x1="161.8" y1="556.3" x2="165.2" y2="556.3" stroke="#262626" stroke-width="0.95"/>
<line x1="161.8" y1="574.5" x2="165.2" y2="574.5" stroke="#262626" stroke-width="0.95"/>
<line x1="176.5" y1="540.4" x2="176.5" y2="555" stroke="#262626" stroke-width="0.85"/>
<line x1="174.8" y1="540.4" x2="178.2" y2="540.4" stroke="#262626" stroke-width="0.95"/>
<line x1="174.8" y1="555" x2="178.2" y2="555" stroke="#262626" stroke-width="0.95"/>
<line x1="182.5" y1="533.4" x2="182.5" y2="542.1" stroke="#262626" stroke-width="0.85"/>
<line x1="180.8" y1="533.4" x2="184.2" y2="533.4" stroke="#262626" stroke-width="0.95"/>
<line x1="180.8" y1="542.1" x2="184.2" y2="542.1" stroke="#262626" stroke-width="0.95"/>
<line x1="195.5" y1="528.9" x2="195.5" y2="544.6" stroke="#262626" stroke-width="0.85"/>
<line x1="193.8" y1="528.9" x2="197.2" y2="528.9" stroke="#262626" stroke-width="0.95"/>
<line x1="193.8" y1="544.6" x2="197.2" y2="544.6" stroke="#262626" stroke-width="0.95"/>
<line x1="201.5" y1="509.3" x2="201.5" y2="529.2" stroke="#262626" stroke-width="0.85"/>
<line x1="199.8" y1="509.3" x2="203.2" y2="509.3" stroke="#262626" stroke-width="0.95"/>
<line x1="199.8" y1="529.2" x2="203.2" y2="529.2" stroke="#262626" stroke-width="0.95"/>
<line x1="214.5" y1="530.9" x2="214.5" y2="537.1" stroke="#262626" stroke-width="0.85"/>
<line x1="212.8" y1="530.9" x2="216.2" y2="530.9" stroke="#262626" stroke-width="0.95"/>
<line x1="212.8" y1="537.1" x2="216.2" y2="537.1" stroke="#262626" stroke-width="0.95"/>
<line x1="221.5" y1="511" x2="221.5" y2="512.2" stroke="#262626" stroke-width="0.85"/>
<line x1="219.8" y1="511" x2="223.2" y2="511" stroke="#262626" stroke-width="0.95"/>
<line x1="219.8" y1="512.2" x2="223.2" y2="512.2" stroke="#262626" stroke-width="0.95"/>
<line x1="233.5" y1="559.5" x2="233.5" y2="570.7" stroke="#262626" stroke-width="0.85"/>
<line x1="231.8" y1="559.5" x2="235.2" y2="559.5" stroke="#262626" stroke-width="0.95"/>
<line x1="231.8" y1="570.7" x2="235.2" y2="570.7" stroke="#262626" stroke-width="0.95"/>
<line x1="240.5" y1="533.9" x2="240.5" y2="556.5" stroke="#262626" stroke-width="0.85"/>
<line x1="238.8" y1="533.9" x2="242.2" y2="533.9" stroke="#262626" stroke-width="0.95"/>
<line x1="238.8" y1="556.5" x2="242.2" y2="556.5" stroke="#262626" stroke-width="0.95"/>
<line x1="160.3" y1="503.6" x2="160.3" y2="580.9" stroke="#2e2e2e" stroke-width="1.35"/>
<line x1="157.3" y1="580.2" x2="245.2" y2="580.2" stroke="#2e2e2e" stroke-width="1.45"/>
<line x1="157.3" y1="580.2" x2="160.3" y2="580.2" stroke="#2e2e2e" stroke-width="1"/>
<text x="154.1" y="583.14" font-size="6.5" text-anchor="end">0</text>
<line x1="157.3" y1="565.12" x2="160.3" y2="565.12" stroke="#2e2e2e" stroke-width="1"/>
<text x="154.1" y="568.06" font-size="6.5" text-anchor="end">1</text>
<line x1="157.3" y1="550.04" x2="160.3" y2="550.04" stroke="#2e2e2e" stroke-width="1"/>
<text x="154.1" y="552.98" font-size="6.5" text-anchor="end">4</text>
<line x1="157.3" y1="534.96" x2="160.3" y2="534.96" stroke="#2e2e2e" stroke-width="1"/>
<text x="154.1" y="537.9" font-size="6.5" text-anchor="end">16</text>
<line x1="157.3" y1="519.88" x2="160.3" y2="519.88" stroke="#2e2e2e" stroke-width="1"/>
<text x="154.1" y="522.82" font-size="6.5" text-anchor="end">64</text>
<line x1="157.3" y1="504.8" x2="160.3" y2="504.8" stroke="#2e2e2e" stroke-width="1"/>
<text x="154.1" y="507.74" font-size="6.5" text-anchor="end">256</text>
<text x="177.8" y="586.2" font-size="5.3" text-anchor="end" transform="rotate(-45 177.8 586.2)">0.1</text>
<text x="184.6" y="586.2" font-size="5.3" text-anchor="end" transform="rotate(-45 184.6 586.2)">0.5</text>
<text x="196.8" y="586.2" font-size="5.3" text-anchor="end" transform="rotate(-45 196.8 586.2)">0.1</text>
<text x="203.6" y="586.2" font-size="5.3" text-anchor="end" transform="rotate(-45 203.6 586.2)">0.5</text>
<text x="216.4" y="586.2" font-size="5.3" text-anchor="end" transform="rotate(-45 216.4 586.2)">0.1</text>
<text x="223" y="586.2" font-size="5.3" text-anchor="end" transform="rotate(-45 223 586.2)">0.5</text>
<text x="235.5" y="586.2" font-size="5.3" text-anchor="end" transform="rotate(-45 235.5 586.2)">0.1</text>
<text x="242.2" y="586.2" font-size="5.3" text-anchor="end" transform="rotate(-45 242.2 586.2)">0.5</text>
<text x="163.7" y="601.6" font-size="6.4" text-anchor="middle">Ctr.</text>
<text x="179.5" y="601.6" font-size="6.4" text-anchor="middle">AZA</text>
<text x="198.5" y="601.6" font-size="6.4" text-anchor="middle">DAC</text>
<text x="218" y="601.6" font-size="6.4" text-anchor="middle" textLength="16" lengthAdjust="spacingAndGlyphs">OR21</text>
<text x="237.15" y="601.6" font-size="6.4" text-anchor="middle" textLength="16" lengthAdjust="spacingAndGlyphs">OR12</text>
<text x="203" y="497.4" font-size="9" text-anchor="middle" textLength="18.4" lengthAdjust="spacingAndGlyphs">MT-2</text>
<text x="203" y="612.5" font-size="6.9" text-anchor="middle" textLength="15.4" lengthAdjust="spacingAndGlyphs">(μM)</text>
<rect x="294.6" y="562" width="4.2" height="18.5" fill="#5a9fdc"/>
<rect x="307.6" y="560" width="4.2" height="20.5" fill="#f4c98d"/>
<rect x="314" y="537.5" width="4.2" height="43" fill="#e38c12"/>
<rect x="326.9" y="529.5" width="4.2" height="51" fill="#a585b8"/>
<rect x="333.5" y="508" width="4.2" height="72.5" fill="#4a1860"/>
<rect x="346.2" y="543" width="4.2" height="37.5" fill="#e19a89"/>
<rect x="352.5" y="510" width="4.2" height="70.5" fill="#b3052f"/>
<rect x="365.2" y="559.5" width="4.2" height="21" fill="#c6e2a6"/>
<rect x="371.9" y="550" width="4.2" height="30.5" fill="#5aa83b"/>
<line x1="296.5" y1="556.3" x2="296.5" y2="567.5" stroke="#262626" stroke-width="0.85"/>
<line x1="294.8" y1="556.3" x2="298.2" y2="556.3" stroke="#262626" stroke-width="0.95"/>
<line x1="294.8" y1="567.5" x2="298.2" y2="567.5" stroke="#262626" stroke-width="0.95"/>
<line x1="309.5" y1="554.5" x2="309.5" y2="565" stroke="#262626" stroke-width="0.85"/>
<line x1="307.8" y1="554.5" x2="311.2" y2="554.5" stroke="#262626" stroke-width="0.95"/>
<line x1="307.8" y1="565" x2="311.2" y2="565" stroke="#262626" stroke-width="0.95"/>
<line x1="316.5" y1="537" x2="316.5" y2="538.5" stroke="#262626" stroke-width="0.85"/>
<line x1="314.8" y1="537" x2="318.2" y2="537" stroke="#262626" stroke-width="0.95"/>
<line x1="314.8" y1="538.5" x2="318.2" y2="538.5" stroke="#262626" stroke-width="0.95"/>
<line x1="329.5" y1="529" x2="329.5" y2="530.5" stroke="#262626" stroke-width="0.85"/>
<line x1="327.8" y1="529" x2="331.2" y2="529" stroke="#262626" stroke-width="0.95"/>
<line x1="327.8" y1="530.5" x2="331.2" y2="530.5" stroke="#262626" stroke-width="0.95"/>
<line x1="335.5" y1="507.5" x2="335.5" y2="509" stroke="#262626" stroke-width="0.85"/>
<line x1="333.8" y1="507.5" x2="337.2" y2="507.5" stroke="#262626" stroke-width="0.95"/>
<line x1="333.8" y1="509" x2="337.2" y2="509" stroke="#262626" stroke-width="0.95"/>
<line x1="348.5" y1="542.3" x2="348.5" y2="543.8" stroke="#262626" stroke-width="0.85"/>
<line x1="346.8" y1="542.3" x2="350.2" y2="542.3" stroke="#262626" stroke-width="0.95"/>
<line x1="346.8" y1="543.8" x2="350.2" y2="543.8" stroke="#262626" stroke-width="0.95"/>
<line x1="354.5" y1="509.5" x2="354.5" y2="510.8" stroke="#262626" stroke-width="0.85"/>
<line x1="352.8" y1="509.5" x2="356.2" y2="509.5" stroke="#262626" stroke-width="0.95"/>
<line x1="352.8" y1="510.8" x2="356.2" y2="510.8" stroke="#262626" stroke-width="0.95"/>
<line x1="367.5" y1="555.5" x2="367.5" y2="564.5" stroke="#262626" stroke-width="0.85"/>
<line x1="365.8" y1="555.5" x2="369.2" y2="555.5" stroke="#262626" stroke-width="0.95"/>
<line x1="365.8" y1="564.5" x2="369.2" y2="564.5" stroke="#262626" stroke-width="0.95"/>
<line x1="374.5" y1="548.8" x2="374.5" y2="551.8" stroke="#262626" stroke-width="0.85"/>
<line x1="372.8" y1="548.8" x2="376.2" y2="548.8" stroke="#262626" stroke-width="0.95"/>
<line x1="372.8" y1="551.8" x2="376.2" y2="551.8" stroke="#262626" stroke-width="0.95"/>
<line x1="293.3" y1="503.6" x2="293.3" y2="581.2" stroke="#2e2e2e" stroke-width="1.35"/>
<line x1="290.3" y1="580.5" x2="378.8" y2="580.5" stroke="#2e2e2e" stroke-width="1.45"/>
<line x1="290.3" y1="580.5" x2="293.3" y2="580.5" stroke="#2e2e2e" stroke-width="1"/>
<text x="287.1" y="583.44" font-size="6.5" text-anchor="end">0</text>
<line x1="290.3" y1="561.82" x2="293.3" y2="561.82" stroke="#2e2e2e" stroke-width="1"/>
<text x="287.1" y="564.76" font-size="6.5" text-anchor="end">1</text>
<line x1="290.3" y1="543.14" x2="293.3" y2="543.14" stroke="#2e2e2e" stroke-width="1"/>
<text x="287.1" y="546.08" font-size="6.5" text-anchor="end">10</text>
<line x1="290.3" y1="524.46" x2="293.3" y2="524.46" stroke="#2e2e2e" stroke-width="1"/>
<text x="287.1" y="527.4" font-size="6.5" text-anchor="end">100</text>
<line x1="290.3" y1="505.78" x2="293.3" y2="505.78" stroke="#2e2e2e" stroke-width="1"/>
<text x="287.1" y="508.72" font-size="6.5" text-anchor="end">1000</text>
<text x="311.4" y="586.5" font-size="5.3" text-anchor="end" transform="rotate(-45 311.4 586.5)">0.1</text>
<text x="317.8" y="586.5" font-size="5.3" text-anchor="end" transform="rotate(-45 317.8 586.5)">0.5</text>
<text x="330.7" y="586.5" font-size="5.3" text-anchor="end" transform="rotate(-45 330.7 586.5)">0.1</text>
<text x="337.3" y="586.5" font-size="5.3" text-anchor="end" transform="rotate(-45 337.3 586.5)">0.5</text>
<text x="350" y="586.5" font-size="5.3" text-anchor="end" transform="rotate(-45 350 586.5)">0.1</text>
<text x="356.3" y="586.5" font-size="5.3" text-anchor="end" transform="rotate(-45 356.3 586.5)">0.5</text>
<text x="369" y="586.5" font-size="5.3" text-anchor="end" transform="rotate(-45 369 586.5)">0.1</text>
<text x="375.7" y="586.5" font-size="5.3" text-anchor="end" transform="rotate(-45 375.7 586.5)">0.5</text>
<text x="296.7" y="601.9" font-size="6.4" text-anchor="middle">Ctr.</text>
<text x="312.9" y="601.9" font-size="6.4" text-anchor="middle">AZA</text>
<text x="332.3" y="601.9" font-size="6.4" text-anchor="middle">DAC</text>
<text x="351.45" y="601.9" font-size="6.4" text-anchor="middle" textLength="16" lengthAdjust="spacingAndGlyphs">OR21</text>
<text x="370.65" y="601.9" font-size="6.4" text-anchor="middle" textLength="16" lengthAdjust="spacingAndGlyphs">OR12</text>
<text x="335.7" y="497.4" font-size="9" text-anchor="middle" textLength="18.4" lengthAdjust="spacingAndGlyphs">MT-1</text>
<text x="335.7" y="612.8" font-size="6.9" text-anchor="middle" textLength="15.4" lengthAdjust="spacingAndGlyphs">(μM)</text>
<text x="267.4" y="542.05" font-size="8" text-anchor="middle" transform="rotate(-90 267.4 542.05)" textLength="74" lengthAdjust="spacingAndGlyphs" stroke-width="0.05">Relative gene expression</text>
<rect x="404.4" y="544.5" width="4.2" height="36" fill="#5a9fdc"/>
<rect x="417" y="550" width="4.2" height="30.5" fill="#f4c98d"/>
<rect x="423.4" y="548" width="4.2" height="32.5" fill="#e38c12"/>
<rect x="435.7" y="552" width="4.2" height="28.5" fill="#a585b8"/>
<rect x="442.5" y="550" width="4.2" height="30.5" fill="#4a1860"/>
<rect x="455" y="551.3" width="4.2" height="29.2" fill="#e19a89"/>
<rect x="462" y="542" width="4.2" height="38.5" fill="#b3052f"/>
<rect x="474.3" y="548.8" width="4.2" height="31.7" fill="#c6e2a6"/>
<rect x="481" y="549.5" width="4.2" height="31" fill="#5aa83b"/>
<line x1="406.5" y1="539.5" x2="406.5" y2="548.4" stroke="#262626" stroke-width="0.85"/>
<line x1="404.8" y1="539.5" x2="408.2" y2="539.5" stroke="#262626" stroke-width="0.95"/>
<line x1="404.8" y1="548.4" x2="408.2" y2="548.4" stroke="#262626" stroke-width="0.95"/>
<line x1="419.5" y1="545.4" x2="419.5" y2="553.7" stroke="#262626" stroke-width="0.85"/>
<line x1="417.8" y1="545.4" x2="421.2" y2="545.4" stroke="#262626" stroke-width="0.95"/>
<line x1="417.8" y1="553.7" x2="421.2" y2="553.7" stroke="#262626" stroke-width="0.95"/>
<line x1="425.5" y1="537.8" x2="425.5" y2="555.2" stroke="#262626" stroke-width="0.85"/>
<line x1="423.8" y1="537.8" x2="427.2" y2="537.8" stroke="#262626" stroke-width="0.95"/>
<line x1="423.8" y1="555.2" x2="427.2" y2="555.2" stroke="#262626" stroke-width="0.95"/>
<line x1="437.5" y1="543.2" x2="437.5" y2="558.1" stroke="#262626" stroke-width="0.85"/>
<line x1="435.8" y1="543.2" x2="439.2" y2="543.2" stroke="#262626" stroke-width="0.95"/>
<line x1="435.8" y1="558.1" x2="439.2" y2="558.1" stroke="#262626" stroke-width="0.95"/>
<line x1="444.5" y1="539.6" x2="444.5" y2="557.3" stroke="#262626" stroke-width="0.85"/>
<line x1="442.8" y1="539.6" x2="446.2" y2="539.6" stroke="#262626" stroke-width="0.95"/>
<line x1="442.8" y1="557.3" x2="446.2" y2="557.3" stroke="#262626" stroke-width="0.95"/>
<line x1="457.5" y1="540.7" x2="457.5" y2="558.1" stroke="#262626" stroke-width="0.85"/>
<line x1="455.8" y1="540.7" x2="459.2" y2="540.7" stroke="#262626" stroke-width="0.95"/>
<line x1="455.8" y1="558.1" x2="459.2" y2="558.1" stroke="#262626" stroke-width="0.95"/>
<line x1="464.5" y1="524.4" x2="464.5" y2="553" stroke="#262626" stroke-width="0.85"/>
<line x1="462.8" y1="524.4" x2="466.2" y2="524.4" stroke="#262626" stroke-width="0.95"/>
<line x1="462.8" y1="553" x2="466.2" y2="553" stroke="#262626" stroke-width="0.95"/>
<line x1="476.5" y1="543.6" x2="476.5" y2="552.3" stroke="#262626" stroke-width="0.85"/>
<line x1="474.8" y1="543.6" x2="478.2" y2="543.6" stroke="#262626" stroke-width="0.95"/>
<line x1="474.8" y1="552.3" x2="478.2" y2="552.3" stroke="#262626" stroke-width="0.95"/>
<line x1="483.5" y1="542.1" x2="483.5" y2="558.1" stroke="#262626" stroke-width="0.85"/>
<line x1="481.8" y1="542.1" x2="485.2" y2="542.1" stroke="#262626" stroke-width="0.95"/>
<line x1="481.8" y1="558.1" x2="485.2" y2="558.1" stroke="#262626" stroke-width="0.95"/>
<line x1="402.6" y1="505" x2="402.6" y2="581.2" stroke="#2e2e2e" stroke-width="1.35"/>
<line x1="399.6" y1="580.5" x2="487.5" y2="580.5" stroke="#2e2e2e" stroke-width="1.45"/>
<line x1="399.6" y1="580.5" x2="402.6" y2="580.5" stroke="#2e2e2e" stroke-width="1"/>
<text x="396.4" y="583.44" font-size="6.5" text-anchor="end">0</text>
<line x1="399.6" y1="562.4" x2="402.6" y2="562.4" stroke="#2e2e2e" stroke-width="1"/>
<text x="396.4" y="565.34" font-size="6.5" text-anchor="end">0.5</text>
<line x1="399.6" y1="544.3" x2="402.6" y2="544.3" stroke="#2e2e2e" stroke-width="1"/>
<text x="396.4" y="547.24" font-size="6.5" text-anchor="end">1</text>
<line x1="399.6" y1="526.2" x2="402.6" y2="526.2" stroke="#2e2e2e" stroke-width="1"/>
<text x="396.4" y="529.14" font-size="6.5" text-anchor="end">1.5</text>
<line x1="399.6" y1="508.1" x2="402.6" y2="508.1" stroke="#2e2e2e" stroke-width="1"/>
<text x="396.4" y="511.04" font-size="6.5" text-anchor="end">2</text>
<text x="420.8" y="586.5" font-size="5.3" text-anchor="end" transform="rotate(-45 420.8 586.5)">0.1</text>
<text x="427.2" y="586.5" font-size="5.3" text-anchor="end" transform="rotate(-45 427.2 586.5)">0.5</text>
<text x="439.5" y="586.5" font-size="5.3" text-anchor="end" transform="rotate(-45 439.5 586.5)">0.1</text>
<text x="446.3" y="586.5" font-size="5.3" text-anchor="end" transform="rotate(-45 446.3 586.5)">0.5</text>
<text x="458.8" y="586.5" font-size="5.3" text-anchor="end" transform="rotate(-45 458.8 586.5)">0.1</text>
<text x="465.8" y="586.5" font-size="5.3" text-anchor="end" transform="rotate(-45 465.8 586.5)">0.5</text>
<text x="478.1" y="586.5" font-size="5.3" text-anchor="end" transform="rotate(-45 478.1 586.5)">0.1</text>
<text x="484.8" y="586.5" font-size="5.3" text-anchor="end" transform="rotate(-45 484.8 586.5)">0.5</text>
<text x="406.5" y="601.9" font-size="6.4" text-anchor="middle">Ctr.</text>
<text x="422.3" y="601.9" font-size="6.4" text-anchor="middle">AZA</text>
<text x="441.2" y="601.9" font-size="6.4" text-anchor="middle">DAC</text>
<text x="460.6" y="601.9" font-size="6.4" text-anchor="middle" textLength="16" lengthAdjust="spacingAndGlyphs">OR21</text>
<text x="479.75" y="601.9" font-size="6.4" text-anchor="middle" textLength="16" lengthAdjust="spacingAndGlyphs">OR12</text>
<text x="445.25" y="497.4" font-size="9" text-anchor="middle" textLength="18.4" lengthAdjust="spacingAndGlyphs">MT-2</text>
<text x="445.25" y="612.8" font-size="6.9" text-anchor="middle" textLength="15.4" lengthAdjust="spacingAndGlyphs">(μM)</text>
<rect x="0.5" y="0.5" width="519" height="622" fill="none" stroke="#000" stroke-width="1"/>
</svg>
</body></html>
